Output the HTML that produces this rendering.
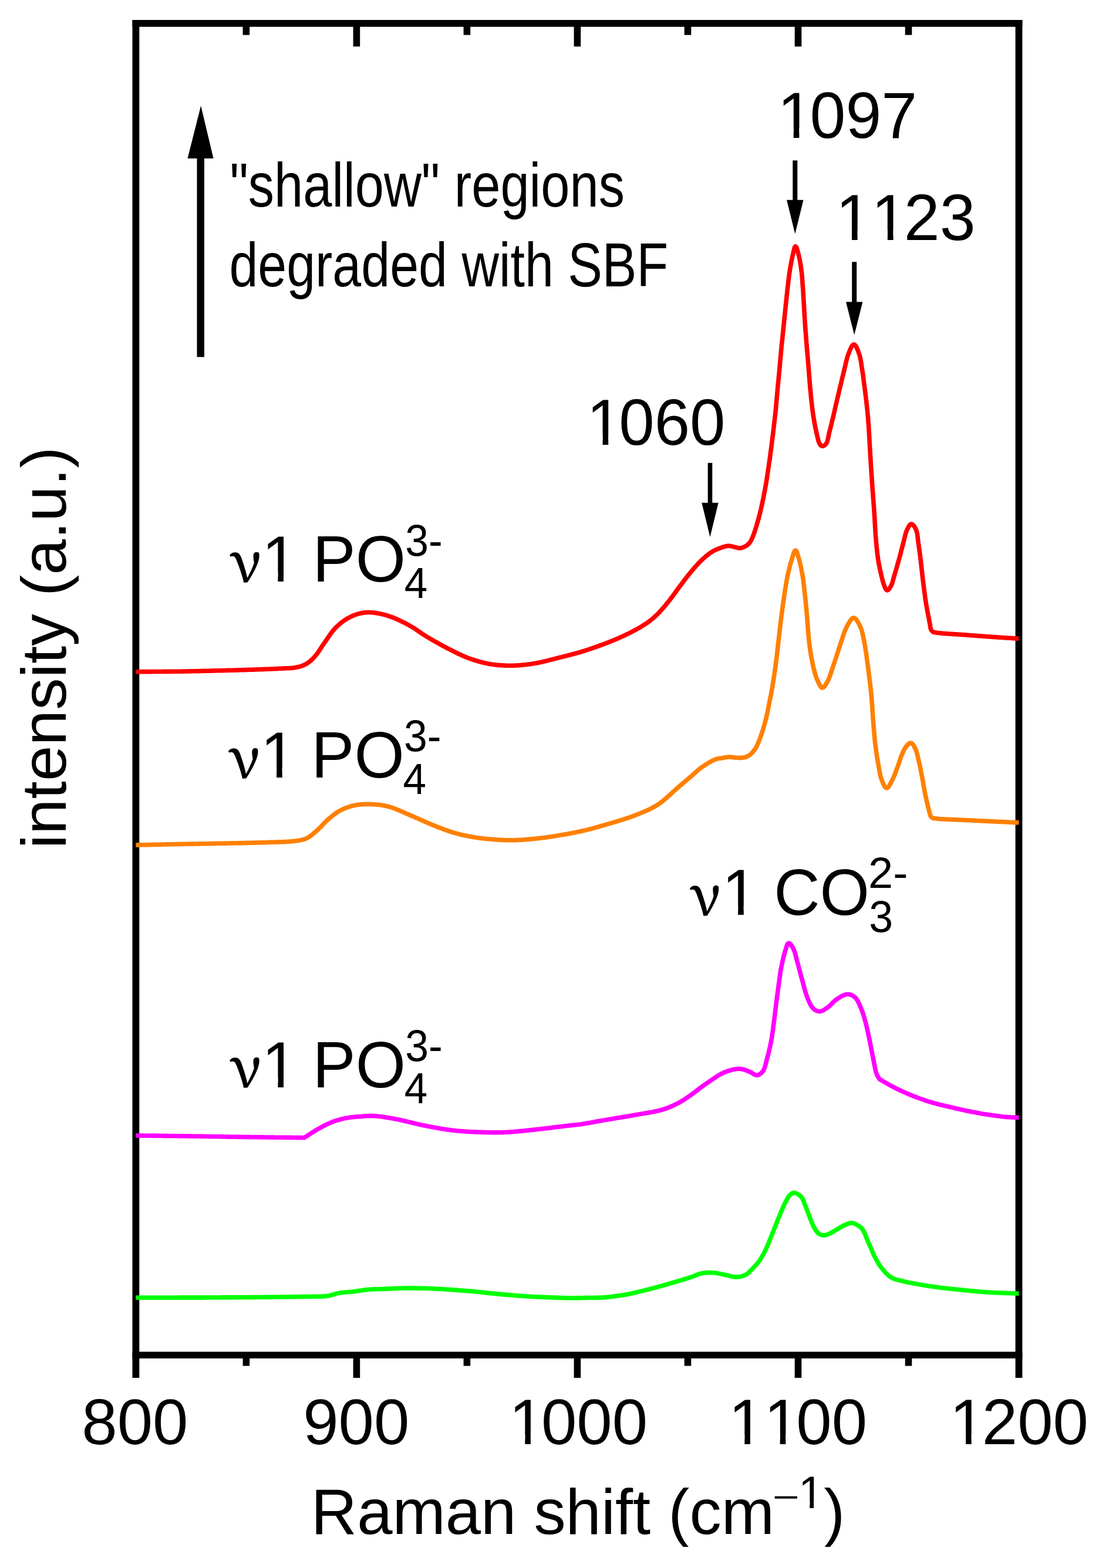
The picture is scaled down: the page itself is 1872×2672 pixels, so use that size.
<!DOCTYPE html>
<html><head><meta charset="utf-8"><title>Raman spectra</title>
<style>
html,body{margin:0;padding:0;background:#fff;}
body{width:1872px;height:2672px;overflow:hidden;}
svg{display:block;}
text{font-family:"Liberation Sans",Arial,sans-serif;fill:#000;font-kerning:none;font-feature-settings:"kern" 0;} .nu{font-family:"Noto Serif CJK SC","Noto Serif CJK JP",serif;stroke:#000;stroke-width:1.6px;stroke-linejoin:round;}
</style></head>
<body>
<svg xmlns="http://www.w3.org/2000/svg" width="1872" height="2672" viewBox="0 0 1872 2672">
<defs>
<clipPath id="k2" clipPathUnits="userSpaceOnUse"><path clip-rule="evenodd" d="M-3000,-3000H3000V3000H-3000ZM11.13,-16.20H33.34V2.50H11.13ZM43.12,-16.20H64.46V2.50H43.12Z"/></clipPath>
<clipPath id="k3" clipPathUnits="userSpaceOnUse"><path clip-rule="evenodd" d="M-3000,-3000H3000V3000H-3000ZM11.13,-16.20H33.34V2.50H11.13ZM43.12,-16.20H64.46V2.50H43.12ZM72.64,-16.20H94.85V2.50H72.64ZM104.63,-16.20H125.97V2.50H104.63Z"/></clipPath>
<clipPath id="k4" clipPathUnits="userSpaceOnUse"><path clip-rule="evenodd" d="M-3000,-3000H3000V3000H-3000ZM11.13,-16.20H33.34V2.50H11.13ZM43.12,-16.20H64.46V2.50H43.12Z"/></clipPath>
<clipPath id="k5" clipPathUnits="userSpaceOnUse"><path clip-rule="evenodd" d="M-3000,-3000H3000V3000H-3000ZM11.24,-16.33H33.61V2.50H11.24ZM43.47,-16.33H64.97V2.50H43.47Z"/></clipPath>
<clipPath id="k6" clipPathUnits="userSpaceOnUse"><path clip-rule="evenodd" d="M-3000,-3000H3000V3000H-3000ZM11.24,-16.33H33.61V2.50H11.24ZM43.47,-16.33H64.97V2.50H43.47ZM73.25,-16.33H95.62V2.50H73.25ZM105.48,-16.33H126.98V2.50H105.48Z"/></clipPath>
<clipPath id="k7" clipPathUnits="userSpaceOnUse"><path clip-rule="evenodd" d="M-3000,-3000H3000V3000H-3000ZM11.13,-16.20H33.34V2.50H11.13ZM43.12,-16.20H64.46V2.50H43.12Z"/></clipPath>
<clipPath id="k10" clipPathUnits="userSpaceOnUse"><path clip-rule="evenodd" d="M-3000,-3000H3000V3000H-3000ZM3.14,-11.28H19.36V2.50H3.14ZM26.17,-11.28H41.79V2.50H26.17Z"/></clipPath>
<clipPath id="k15" clipPathUnits="userSpaceOnUse"><path clip-rule="evenodd" d="M-3000,-3000H3000V3000H-3000ZM5.63,-16.26H27.91V2.50H5.63ZM37.72,-16.26H59.14V2.50H37.72Z"/></clipPath>
<clipPath id="k20" clipPathUnits="userSpaceOnUse"><path clip-rule="evenodd" d="M-3000,-3000H3000V3000H-3000ZM5.63,-16.26H27.91V2.50H5.63ZM37.72,-16.26H59.14V2.50H37.72Z"/></clipPath>
<clipPath id="k25" clipPathUnits="userSpaceOnUse"><path clip-rule="evenodd" d="M-3000,-3000H3000V3000H-3000ZM5.63,-16.26H27.91V2.50H5.63ZM37.72,-16.26H59.14V2.50H37.72Z"/></clipPath>
<clipPath id="k30" clipPathUnits="userSpaceOnUse"><path clip-rule="evenodd" d="M-3000,-3000H3000V3000H-3000ZM5.63,-16.26H27.91V2.50H5.63ZM37.72,-16.26H59.14V2.50H37.72Z"/></clipPath>
<clipPath id="bottomclip" clipPathUnits="userSpaceOnUse"><rect x="0" y="0" width="1872" height="2636"/></clipPath>
</defs>
<rect width="1872" height="2672" fill="#fff"/>
<g fill="#000">
<rect x="225.5" y="34.0" width="1515.9" height="11.7"/>
<rect x="225.5" y="34.0" width="11.8" height="2314.0"/>
<rect x="1729.6" y="34.0" width="11.8" height="2314.0"/>
<rect x="225.5" y="2303.5" width="1515.9" height="11.3"/>
<rect x="413.6" y="45.0" width="11.6" height="14.6"/>
<rect x="413.6" y="2314.0" width="11.6" height="13.6"/>
<rect x="601.6" y="45.0" width="11.6" height="34.3"/>
<rect x="601.6" y="2314.0" width="11.6" height="34.0"/>
<rect x="789.6" y="45.0" width="11.6" height="14.6"/>
<rect x="789.6" y="2314.0" width="11.6" height="13.6"/>
<rect x="977.6" y="45.0" width="11.6" height="34.3"/>
<rect x="977.6" y="2314.0" width="11.6" height="34.0"/>
<rect x="1165.7" y="45.0" width="11.6" height="14.6"/>
<rect x="1165.7" y="2314.0" width="11.6" height="13.6"/>
<rect x="1353.7" y="45.0" width="11.6" height="34.3"/>
<rect x="1353.7" y="2314.0" width="11.6" height="34.0"/>
<rect x="1541.7" y="45.0" width="11.6" height="14.6"/>
<rect x="1541.7" y="2314.0" width="11.6" height="13.6"/>
</g>
<g fill="none" stroke-width="7.6" stroke-linejoin="round" stroke-linecap="butt">
<path d="M231.4,1144.7L232.9,1144.7L234.4,1144.7L235.9,1144.7L237.4,1144.7L238.9,1144.7L240.4,1144.6L241.9,1144.6L243.4,1144.6L244.9,1144.6L246.4,1144.6L247.9,1144.6L249.4,1144.6L250.9,1144.6L252.4,1144.6L253.9,1144.6L255.4,1144.6L256.9,1144.6L258.4,1144.6L259.9,1144.5L261.4,1144.5L262.9,1144.5L264.4,1144.5L265.9,1144.5L267.4,1144.5L268.9,1144.5L270.4,1144.5L271.9,1144.5L273.4,1144.5L274.9,1144.5L276.4,1144.5L277.9,1144.4L279.4,1144.4L280.9,1144.4L282.4,1144.4L283.9,1144.4L285.4,1144.4L286.9,1144.4L288.4,1144.4L289.9,1144.4L291.4,1144.3L292.9,1144.3L294.4,1144.3L295.9,1144.3L297.4,1144.3L298.9,1144.3L300.4,1144.3L301.9,1144.2L303.4,1144.2L304.9,1144.2L306.4,1144.2L307.9,1144.2L309.4,1144.1L310.9,1144.1L312.4,1144.1L313.9,1144.1L315.4,1144.0L316.9,1144.0L318.4,1144.0L319.9,1144.0L321.4,1143.9L322.9,1143.9L324.4,1143.9L325.9,1143.8L327.4,1143.8L328.9,1143.8L330.4,1143.7L331.9,1143.7L333.4,1143.7L334.9,1143.6L336.4,1143.6L337.9,1143.6L339.4,1143.5L340.9,1143.5L342.4,1143.5L343.9,1143.4L345.4,1143.4L346.9,1143.4L348.4,1143.3L349.9,1143.3L351.4,1143.3L352.9,1143.2L354.4,1143.2L355.9,1143.2L357.4,1143.1L358.9,1143.1L360.4,1143.1L361.9,1143.0L363.4,1143.0L364.9,1142.9L366.4,1142.9L367.9,1142.9L369.4,1142.8L370.9,1142.8L372.4,1142.8L373.9,1142.7L375.4,1142.7L376.9,1142.7L378.4,1142.6L379.9,1142.6L381.4,1142.5L382.9,1142.5L384.4,1142.5L385.9,1142.4L387.4,1142.4L388.9,1142.4L390.4,1142.3L391.9,1142.3L393.4,1142.2L394.9,1142.2L396.4,1142.2L397.9,1142.1L399.4,1142.1L400.9,1142.0L402.4,1142.0L403.9,1142.0L405.4,1141.9L406.9,1141.9L408.4,1141.8L409.9,1141.8L411.4,1141.7L412.9,1141.7L414.4,1141.7L415.9,1141.6L417.4,1141.6L418.9,1141.5L420.4,1141.5L421.9,1141.4L423.4,1141.4L424.9,1141.3L426.4,1141.3L427.9,1141.2L429.4,1141.2L430.9,1141.1L432.4,1141.1L433.9,1141.0L435.4,1141.0L436.9,1140.9L438.4,1140.9L439.9,1140.8L441.4,1140.8L442.9,1140.7L444.4,1140.7L445.9,1140.6L447.4,1140.6L448.9,1140.5L450.4,1140.4L451.9,1140.4L453.4,1140.3L454.9,1140.3L456.4,1140.2L457.9,1140.2L459.4,1140.1L460.9,1140.0L462.4,1140.0L463.9,1139.9L465.4,1139.8L466.9,1139.8L468.4,1139.7L469.9,1139.6L471.4,1139.6L472.9,1139.5L474.4,1139.4L475.9,1139.3L477.4,1139.3L478.9,1139.2L480.4,1139.1L481.9,1139.1L483.4,1139.0L484.9,1138.9L486.4,1138.9L487.9,1138.8L489.4,1138.8L490.9,1138.7L492.3,1138.7L493.8,1138.6L495.3,1138.5L496.8,1138.4L498.3,1138.2L499.8,1138.1L501.3,1137.9L502.8,1137.6L504.3,1137.3L505.7,1137.0L507.2,1136.7L508.7,1136.4L510.1,1136.0L511.6,1135.6L513.0,1135.1L514.4,1134.7L515.8,1134.1L517.2,1133.6L518.6,1133.0L519.9,1132.3L521.2,1131.6L522.5,1130.8L523.8,1130.0L525.0,1129.2L526.2,1128.3L527.4,1127.3L528.6,1126.4L529.7,1125.4L530.8,1124.4L531.9,1123.4L532.9,1122.3L534.0,1121.2L535.0,1120.1L536.0,1119.0L537.0,1117.9L538.0,1116.7L538.9,1115.6L539.8,1114.4L540.7,1113.2L541.6,1111.9L542.4,1110.7L543.3,1109.5L544.1,1108.2L544.9,1107.0L545.7,1105.7L546.5,1104.4L547.4,1103.2L548.2,1101.9L549.0,1100.7L549.8,1099.4L550.7,1098.2L551.5,1096.9L552.4,1095.7L553.2,1094.5L554.1,1093.2L555.0,1092.0L555.8,1090.8L556.7,1089.5L557.5,1088.3L558.3,1087.1L559.2,1085.8L560.0,1084.6L560.9,1083.3L561.7,1082.1L562.6,1080.9L563.5,1079.7L564.4,1078.5L565.3,1077.3L566.2,1076.1L567.1,1074.9L568.1,1073.7L569.1,1072.6L570.1,1071.5L571.1,1070.4L572.1,1069.3L573.2,1068.3L574.3,1067.2L575.4,1066.2L576.5,1065.2L577.6,1064.2L578.8,1063.2L579.9,1062.3L581.1,1061.3L582.3,1060.4L583.4,1059.5L584.7,1058.6L585.9,1057.7L587.1,1056.9L588.4,1056.1L589.6,1055.3L590.9,1054.5L592.2,1053.7L593.5,1053.0L594.8,1052.3L596.2,1051.6L597.5,1050.9L598.9,1050.3L600.2,1049.6L601.6,1049.1L603.0,1048.5L604.4,1048.0L605.8,1047.5L607.2,1047.0L608.7,1046.5L610.1,1046.1L611.5,1045.7L613.0,1045.3L614.5,1045.0L615.9,1044.7L617.4,1044.4L618.9,1044.2L620.4,1043.9L621.9,1043.8L623.3,1043.6L624.8,1043.6L626.3,1043.5L627.8,1043.5L629.3,1043.5L630.8,1043.6L632.3,1043.6L633.8,1043.8L635.3,1043.9L636.8,1044.1L638.3,1044.2L639.8,1044.5L641.3,1044.7L642.8,1044.9L644.2,1045.2L645.7,1045.5L647.2,1045.8L648.6,1046.1L650.1,1046.4L651.6,1046.8L653.0,1047.1L654.5,1047.5L655.9,1047.9L657.4,1048.3L658.8,1048.7L660.2,1049.2L661.7,1049.6L663.1,1050.1L664.5,1050.6L665.9,1051.1L667.3,1051.6L668.7,1052.1L670.1,1052.7L671.5,1053.2L672.9,1053.8L674.3,1054.4L675.7,1055.0L677.0,1055.6L678.4,1056.2L679.8,1056.9L681.1,1057.5L682.5,1058.2L683.8,1058.8L685.2,1059.5L686.5,1060.2L687.8,1060.8L689.2,1061.5L690.5,1062.2L691.8,1062.9L693.2,1063.6L694.5,1064.3L695.8,1065.0L697.1,1065.7L698.4,1066.5L699.7,1067.2L701.0,1067.9L702.3,1068.7L703.6,1069.5L704.9,1070.3L706.2,1071.1L707.4,1071.9L708.7,1072.8L709.9,1073.6L711.1,1074.5L712.4,1075.3L713.6,1076.2L714.8,1077.0L716.1,1077.9L717.3,1078.7L718.5,1079.6L719.8,1080.4L721.0,1081.2L722.3,1082.0L723.6,1082.8L724.8,1083.6L726.1,1084.4L727.4,1085.2L728.7,1086.0L730.0,1086.7L731.3,1087.5L732.6,1088.3L733.9,1089.0L735.1,1089.8L736.4,1090.5L737.7,1091.3L739.0,1092.0L740.3,1092.8L741.6,1093.5L742.9,1094.3L744.3,1095.0L745.6,1095.7L746.9,1096.5L748.2,1097.2L749.5,1097.9L750.8,1098.7L752.1,1099.4L753.4,1100.1L754.8,1100.8L756.1,1101.5L757.4,1102.2L758.7,1102.9L760.1,1103.6L761.4,1104.3L762.7,1105.0L764.1,1105.7L765.4,1106.4L766.7,1107.0L768.1,1107.7L769.4,1108.4L770.7,1109.1L772.1,1109.8L773.4,1110.4L774.8,1111.1L776.1,1111.8L777.5,1112.4L778.8,1113.1L780.1,1113.8L781.5,1114.4L782.9,1115.0L784.2,1115.7L785.6,1116.3L787.0,1116.9L788.3,1117.5L789.7,1118.1L791.1,1118.7L792.5,1119.3L793.9,1119.9L795.2,1120.4L796.6,1121.0L798.1,1121.5L799.5,1122.0L800.9,1122.5L802.3,1123.0L803.7,1123.5L805.1,1124.0L806.6,1124.4L808.0,1124.9L809.4,1125.4L810.8,1125.8L812.3,1126.2L813.7,1126.6L815.2,1127.1L816.6,1127.5L818.1,1127.9L819.5,1128.2L821.0,1128.6L822.4,1129.0L823.9,1129.3L825.3,1129.7L826.8,1130.0L828.3,1130.3L829.7,1130.6L831.2,1130.9L832.7,1131.2L834.2,1131.4L835.6,1131.7L837.1,1131.9L838.6,1132.2L840.1,1132.4L841.6,1132.6L843.1,1132.8L844.5,1133.0L846.0,1133.1L847.5,1133.3L849.0,1133.4L850.5,1133.5L852.0,1133.6L853.5,1133.8L855.0,1133.8L856.5,1133.9L858.0,1134.0L859.5,1134.1L861.0,1134.1L862.5,1134.2L864.0,1134.2L865.5,1134.2L867.0,1134.2L868.5,1134.2L870.0,1134.2L871.5,1134.2L873.0,1134.2L874.5,1134.2L876.0,1134.1L877.5,1134.1L879.0,1134.0L880.5,1133.9L882.0,1133.9L883.5,1133.8L885.0,1133.7L886.5,1133.5L888.0,1133.4L889.5,1133.3L891.0,1133.1L892.5,1133.0L894.0,1132.8L895.4,1132.7L896.9,1132.5L898.4,1132.3L899.9,1132.1L901.4,1131.9L902.9,1131.7L904.4,1131.5L905.9,1131.3L907.3,1131.0L908.8,1130.8L910.3,1130.6L911.8,1130.3L913.3,1130.1L914.7,1129.8L916.2,1129.5L917.7,1129.2L919.1,1128.9L920.6,1128.6L922.1,1128.3L923.5,1127.9L925.0,1127.6L926.5,1127.2L927.9,1126.9L929.4,1126.5L930.8,1126.2L932.3,1125.8L933.7,1125.4L935.2,1125.1L936.6,1124.7L938.1,1124.3L939.6,1124.0L941.0,1123.6L942.5,1123.2L943.9,1122.8L945.4,1122.5L946.8,1122.1L948.3,1121.7L949.7,1121.4L951.2,1121.0L952.6,1120.6L954.1,1120.3L955.6,1119.9L957.0,1119.6L958.5,1119.2L959.9,1118.8L961.4,1118.5L962.8,1118.1L964.3,1117.7L965.7,1117.4L967.2,1117.0L968.6,1116.6L970.1,1116.3L971.6,1115.9L973.0,1115.5L974.5,1115.1L975.9,1114.7L977.4,1114.3L978.8,1113.9L980.2,1113.5L981.7,1113.1L983.1,1112.7L984.6,1112.3L986.0,1111.9L987.5,1111.5L988.9,1111.1L990.3,1110.6L991.8,1110.2L993.2,1109.7L994.6,1109.3L996.1,1108.8L997.5,1108.4L998.9,1107.9L1000.3,1107.5L1001.8,1107.0L1003.2,1106.5L1004.6,1106.1L1006.0,1105.6L1007.5,1105.1L1008.9,1104.6L1010.3,1104.1L1011.7,1103.6L1013.1,1103.1L1014.6,1102.6L1016.0,1102.1L1017.4,1101.6L1018.8,1101.1L1020.2,1100.6L1021.6,1100.1L1023.0,1099.6L1024.4,1099.1L1025.8,1098.6L1027.3,1098.0L1028.7,1097.5L1030.1,1097.0L1031.5,1096.5L1032.9,1095.9L1034.3,1095.4L1035.7,1094.8L1037.1,1094.3L1038.4,1093.7L1039.8,1093.2L1041.2,1092.6L1042.6,1092.0L1044.0,1091.5L1045.4,1090.9L1046.8,1090.3L1048.2,1089.7L1049.5,1089.2L1050.9,1088.6L1052.3,1088.0L1053.7,1087.4L1055.0,1086.8L1056.4,1086.2L1057.8,1085.5L1059.2,1084.9L1060.5,1084.3L1061.9,1083.7L1063.2,1083.0L1064.6,1082.4L1066.0,1081.8L1067.3,1081.1L1068.7,1080.5L1070.0,1079.8L1071.4,1079.1L1072.7,1078.5L1074.0,1077.8L1075.4,1077.1L1076.7,1076.4L1078.0,1075.7L1079.4,1075.1L1080.7,1074.3L1082.0,1073.6L1083.3,1072.9L1084.7,1072.2L1086.0,1071.5L1087.3,1070.7L1088.6,1070.0L1089.9,1069.2L1091.2,1068.5L1092.5,1067.7L1093.7,1066.9L1095.0,1066.1L1096.3,1065.3L1097.6,1064.5L1098.8,1063.7L1100.1,1062.9L1101.3,1062.1L1102.5,1061.2L1103.8,1060.3L1105.0,1059.5L1106.2,1058.6L1107.4,1057.7L1108.6,1056.7L1109.7,1055.8L1110.9,1054.8L1112.0,1053.9L1113.2,1052.9L1114.3,1051.9L1115.4,1050.9L1116.5,1049.9L1117.6,1048.8L1118.7,1047.8L1119.7,1046.7L1120.8,1045.7L1121.9,1044.6L1122.9,1043.5L1123.9,1042.4L1124.9,1041.3L1125.9,1040.2L1127.0,1039.1L1127.9,1038.0L1128.9,1036.9L1129.9,1035.7L1130.9,1034.6L1131.9,1033.4L1132.8,1032.3L1133.8,1031.1L1134.7,1030.0L1135.7,1028.8L1136.6,1027.7L1137.6,1026.5L1138.5,1025.3L1139.5,1024.2L1140.4,1023.0L1141.3,1021.8L1142.2,1020.6L1143.1,1019.4L1144.0,1018.2L1144.9,1017.0L1145.8,1015.8L1146.7,1014.6L1147.6,1013.4L1148.5,1012.1L1149.3,1010.9L1150.2,1009.7L1151.1,1008.5L1152.0,1007.3L1152.8,1006.1L1153.7,1004.8L1154.6,1003.6L1155.5,1002.4L1156.4,1001.2L1157.3,1000.0L1158.2,998.8L1159.1,997.6L1160.0,996.4L1160.9,995.2L1161.8,994.0L1162.7,992.8L1163.6,991.6L1164.5,990.4L1165.4,989.2L1166.3,988.0L1167.2,986.8L1168.1,985.6L1169.0,984.4L1169.9,983.3L1170.9,982.1L1171.8,980.9L1172.7,979.7L1173.7,978.6L1174.6,977.4L1175.6,976.2L1176.5,975.1L1177.5,973.9L1178.5,972.8L1179.4,971.6L1180.4,970.5L1181.4,969.3L1182.3,968.2L1183.3,967.1L1184.3,965.9L1185.3,964.8L1186.3,963.7L1187.3,962.6L1188.3,961.5L1189.3,960.4L1190.4,959.3L1191.4,958.2L1192.5,957.2L1193.5,956.1L1194.6,955.1L1195.7,954.0L1196.8,953.0L1197.9,952.0L1199.0,951.0L1200.2,950.0L1201.3,949.0L1202.4,948.0L1203.6,947.1L1204.8,946.1L1205.9,945.2L1207.1,944.3L1208.3,943.4L1209.5,942.5L1210.8,941.7L1212.0,940.8L1213.3,940.0L1214.6,939.3L1215.9,938.5L1217.2,937.8L1218.6,937.2L1219.9,936.6L1221.3,936.0L1222.7,935.4L1224.1,934.9L1225.5,934.3L1226.9,933.8L1228.3,933.3L1229.7,932.8L1231.2,932.4L1232.6,931.9L1234.0,931.5L1235.5,931.0L1236.9,930.7L1238.4,930.4L1239.9,930.3L1241.4,930.3L1242.9,930.4L1244.4,930.6L1245.8,930.9L1247.3,931.2L1248.7,931.6L1250.2,931.9L1251.7,932.3L1253.1,932.6L1254.6,933.0L1256.0,933.4L1257.5,933.7L1258.9,933.9L1260.4,933.9L1261.9,933.7L1263.4,933.4L1264.8,933.0L1266.2,932.5L1267.6,931.9L1269.0,931.2L1270.3,930.5L1271.5,929.7L1272.8,928.9L1273.9,927.9L1275.0,926.9L1276.1,925.8L1277.1,924.7L1277.9,923.5L1278.7,922.2L1279.4,920.9L1280.1,919.6L1280.7,918.2L1281.3,916.8L1281.9,915.4L1282.5,914.0L1283.0,912.7L1283.6,911.3L1284.1,909.8L1284.6,908.4L1285.1,907.0L1285.5,905.6L1286.0,904.2L1286.5,902.7L1286.9,901.3L1287.4,899.9L1287.8,898.4L1288.2,897.0L1288.7,895.6L1289.1,894.1L1289.5,892.7L1289.9,891.3L1290.4,889.8L1290.8,888.4L1291.2,886.9L1291.6,885.5L1292.0,884.0L1292.4,882.6L1292.8,881.1L1293.1,879.7L1293.5,878.2L1293.9,876.8L1294.3,875.3L1294.6,873.9L1295.0,872.4L1295.3,871.0L1295.7,869.5L1296.0,868.0L1296.4,866.6L1296.7,865.1L1297.0,863.6L1297.4,862.2L1297.7,860.7L1298.0,859.3L1298.3,857.8L1298.6,856.3L1298.9,854.8L1299.2,853.4L1299.6,851.9L1299.9,850.4L1300.2,849.0L1300.5,847.5L1300.8,846.0L1301.0,844.6L1301.3,843.1L1301.6,841.6L1301.9,840.1L1302.2,838.7L1302.5,837.2L1302.7,835.7L1303.0,834.2L1303.3,832.8L1303.6,831.3L1303.8,829.8L1304.1,828.3L1304.4,826.9L1304.6,825.4L1304.9,823.9L1305.1,822.4L1305.4,820.9L1305.6,819.5L1305.8,818.0L1306.1,816.5L1306.3,815.0L1306.5,813.5L1306.8,812.1L1307.0,810.6L1307.2,809.1L1307.4,807.6L1307.7,806.1L1307.9,804.6L1308.1,803.2L1308.3,801.7L1308.5,800.2L1308.7,798.7L1309.0,797.2L1309.2,795.7L1309.4,794.2L1309.6,792.8L1309.8,791.3L1310.0,789.8L1310.2,788.3L1310.4,786.8L1310.7,785.3L1310.9,783.9L1311.1,782.4L1311.3,780.9L1311.5,779.4L1311.7,777.9L1311.9,776.4L1312.1,774.9L1312.3,773.4L1312.5,772.0L1312.7,770.5L1312.9,769.0L1313.1,767.5L1313.3,766.0L1313.5,764.5L1313.7,763.0L1313.9,761.5L1314.1,760.1L1314.3,758.6L1314.4,757.1L1314.6,755.6L1314.8,754.1L1315.0,752.6L1315.2,751.1L1315.4,749.6L1315.6,748.2L1315.8,746.7L1315.9,745.2L1316.1,743.7L1316.3,742.2L1316.5,740.7L1316.7,739.2L1316.9,737.7L1317.0,736.2L1317.2,734.8L1317.4,733.3L1317.6,731.8L1317.7,730.3L1317.9,728.8L1318.1,727.3L1318.2,725.8L1318.4,724.3L1318.6,722.8L1318.7,721.3L1318.9,719.8L1319.1,718.4L1319.3,716.9L1319.4,715.4L1319.6,713.9L1319.8,712.4L1320.0,710.9L1320.1,709.4L1320.3,707.9L1320.5,706.4L1320.7,704.9L1320.8,703.5L1321.0,702.0L1321.1,700.5L1321.3,699.0L1321.4,697.5L1321.6,696.0L1321.7,694.5L1321.9,693.0L1322.0,691.5L1322.1,690.0L1322.3,688.5L1322.4,687.0L1322.5,685.5L1322.7,684.0L1322.8,682.5L1322.9,681.1L1323.1,679.6L1323.2,678.1L1323.3,676.6L1323.4,675.1L1323.6,673.6L1323.7,672.1L1323.8,670.6L1324.0,669.1L1324.1,667.6L1324.2,666.1L1324.4,664.6L1324.5,663.1L1324.7,661.6L1324.8,660.1L1324.9,658.6L1325.1,657.1L1325.2,655.7L1325.4,654.2L1325.5,652.7L1325.6,651.2L1325.8,649.7L1325.9,648.2L1326.1,646.7L1326.2,645.2L1326.4,643.7L1326.5,642.2L1326.7,640.7L1326.8,639.2L1326.9,637.7L1327.1,636.2L1327.2,634.7L1327.4,633.2L1327.5,631.8L1327.6,630.3L1327.8,628.8L1327.9,627.3L1328.1,625.8L1328.2,624.3L1328.3,622.8L1328.5,621.3L1328.6,619.8L1328.7,618.3L1328.8,616.8L1329.0,615.3L1329.1,613.8L1329.2,612.3L1329.4,610.8L1329.5,609.3L1329.6,607.8L1329.8,606.4L1329.9,604.9L1330.0,603.4L1330.2,601.9L1330.3,600.4L1330.4,598.9L1330.6,597.4L1330.7,595.9L1330.9,594.4L1331.0,592.9L1331.1,591.4L1331.3,589.9L1331.4,588.4L1331.6,586.9L1331.7,585.4L1331.9,584.0L1332.1,582.5L1332.2,581.0L1332.4,579.5L1332.5,578.0L1332.7,576.5L1332.8,575.0L1333.0,573.5L1333.1,572.0L1333.3,570.5L1333.5,569.0L1333.6,567.5L1333.8,566.0L1333.9,564.6L1334.1,563.1L1334.2,561.6L1334.4,560.1L1334.5,558.6L1334.7,557.1L1334.8,555.6L1335.0,554.1L1335.1,552.6L1335.3,551.1L1335.4,549.6L1335.6,548.1L1335.7,546.6L1335.9,545.1L1336.0,543.7L1336.2,542.2L1336.3,540.7L1336.5,539.2L1336.6,537.7L1336.8,536.2L1336.9,534.7L1337.1,533.2L1337.3,531.7L1337.4,530.2L1337.6,528.7L1337.7,527.2L1337.9,525.7L1338.0,524.3L1338.2,522.8L1338.3,521.3L1338.5,519.8L1338.7,518.3L1338.8,516.8L1339.0,515.3L1339.1,513.8L1339.3,512.3L1339.4,510.8L1339.6,509.3L1339.7,507.8L1339.9,506.3L1340.0,504.9L1340.2,503.4L1340.3,501.9L1340.5,500.4L1340.7,498.9L1340.8,497.4L1341.0,495.9L1341.1,494.4L1341.3,492.9L1341.5,491.4L1341.6,489.9L1341.8,488.4L1342.0,487.0L1342.2,485.5L1342.3,484.0L1342.5,482.5L1342.7,481.0L1342.9,479.5L1343.0,478.0L1343.2,476.5L1343.4,475.0L1343.6,473.6L1343.8,472.1L1344.0,470.6L1344.2,469.1L1344.4,467.6L1344.6,466.1L1344.8,464.6L1345.0,463.2L1345.3,461.7L1345.5,460.2L1345.7,458.7L1346.0,457.2L1346.2,455.7L1346.5,454.3L1346.8,452.8L1347.0,451.3L1347.3,449.8L1347.6,448.4L1347.8,446.9L1348.1,445.4L1348.4,443.9L1348.7,442.5L1349.0,441.0L1349.3,439.5L1349.6,438.1L1350.0,436.6L1350.3,435.1L1350.6,433.7L1351.0,432.2L1351.3,430.8L1351.6,429.3L1352.0,427.8L1352.3,426.4L1352.6,424.9L1353.0,423.4L1353.4,422.0L1354.0,420.7L1354.7,419.9L1355.6,420.0L1356.4,421.0L1357.0,422.3L1357.4,423.7L1357.9,425.1L1358.3,426.6L1358.7,428.0L1359.1,429.5L1359.5,430.9L1359.9,432.4L1360.2,433.8L1360.6,435.3L1360.9,436.7L1361.3,438.2L1361.6,439.7L1361.9,441.1L1362.2,442.6L1362.5,444.1L1362.7,445.6L1363.0,447.0L1363.2,448.5L1363.5,450.0L1363.7,451.5L1364.0,453.0L1364.2,454.4L1364.4,455.9L1364.6,457.4L1364.8,458.9L1365.0,460.4L1365.2,461.9L1365.4,463.4L1365.6,464.9L1365.7,466.3L1365.9,467.8L1366.0,469.3L1366.1,470.8L1366.3,472.3L1366.4,473.8L1366.5,475.3L1366.6,476.8L1366.7,478.3L1366.8,479.8L1366.9,481.3L1367.0,482.8L1367.1,484.3L1367.2,485.8L1367.3,487.3L1367.4,488.8L1367.6,490.3L1367.7,491.8L1367.8,493.3L1367.9,494.8L1368.0,496.3L1368.1,497.8L1368.2,499.3L1368.3,500.8L1368.3,502.3L1368.4,503.8L1368.5,505.2L1368.6,506.7L1368.7,508.2L1368.8,509.7L1368.9,511.2L1369.0,512.7L1369.1,514.2L1369.1,515.7L1369.2,517.2L1369.3,518.7L1369.4,520.2L1369.5,521.7L1369.6,523.2L1369.7,524.7L1369.8,526.2L1369.8,527.7L1369.9,529.2L1370.0,530.7L1370.1,532.2L1370.2,533.7L1370.3,535.2L1370.3,536.7L1370.4,538.2L1370.5,539.7L1370.6,541.2L1370.7,542.7L1370.8,544.2L1370.9,545.7L1371.0,547.2L1371.1,548.7L1371.2,550.2L1371.3,551.7L1371.4,553.2L1371.5,554.7L1371.6,556.2L1371.7,557.7L1371.8,559.2L1371.9,560.7L1372.0,562.1L1372.1,563.6L1372.2,565.1L1372.4,566.6L1372.5,568.1L1372.6,569.6L1372.7,571.1L1372.8,572.6L1372.9,574.1L1373.0,575.6L1373.2,577.1L1373.3,578.6L1373.4,580.1L1373.5,581.6L1373.6,583.1L1373.7,584.6L1373.9,586.1L1374.0,587.6L1374.1,589.1L1374.2,590.6L1374.3,592.1L1374.5,593.6L1374.6,595.1L1374.7,596.6L1374.8,598.0L1375.0,599.5L1375.1,601.0L1375.2,602.5L1375.4,604.0L1375.5,605.5L1375.6,607.0L1375.8,608.5L1375.9,610.0L1376.0,611.5L1376.2,613.0L1376.3,614.5L1376.4,616.0L1376.6,617.5L1376.7,619.0L1376.8,620.5L1376.9,622.0L1377.1,623.5L1377.2,624.9L1377.3,626.4L1377.4,627.9L1377.5,629.4L1377.7,630.9L1377.8,632.4L1377.9,633.9L1378.0,635.4L1378.1,636.9L1378.2,638.4L1378.3,639.9L1378.4,641.4L1378.6,642.9L1378.7,644.4L1378.8,645.9L1378.9,647.4L1379.0,648.9L1379.1,650.4L1379.3,651.9L1379.4,653.4L1379.5,654.9L1379.6,656.4L1379.8,657.9L1379.9,659.3L1380.0,660.8L1380.1,662.3L1380.3,663.8L1380.4,665.3L1380.6,666.8L1380.7,668.3L1380.9,669.8L1381.0,671.3L1381.1,672.8L1381.3,674.3L1381.4,675.8L1381.6,677.3L1381.7,678.8L1381.9,680.3L1382.1,681.7L1382.2,683.2L1382.4,684.7L1382.5,686.2L1382.7,687.7L1382.9,689.2L1383.0,690.7L1383.2,692.2L1383.4,693.7L1383.6,695.2L1383.7,696.7L1383.9,698.1L1384.1,699.6L1384.3,701.1L1384.5,702.6L1384.7,704.1L1384.9,705.6L1385.2,707.1L1385.4,708.5L1385.6,710.0L1385.8,711.5L1386.1,713.0L1386.3,714.5L1386.6,715.9L1386.8,717.4L1387.1,718.9L1387.3,720.4L1387.6,721.9L1387.9,723.3L1388.2,724.8L1388.5,726.3L1388.8,727.7L1389.0,729.2L1389.3,730.7L1389.7,732.2L1390.0,733.6L1390.3,735.1L1390.6,736.6L1390.9,738.0L1391.3,739.5L1391.6,740.9L1391.9,742.4L1392.3,743.9L1392.6,745.3L1393.0,746.8L1393.3,748.2L1393.7,749.7L1394.1,751.1L1394.5,752.6L1395.1,754.0L1395.7,755.3L1396.4,756.6L1397.2,757.9L1398.2,759.0L1399.3,759.9L1400.6,760.2L1402.0,760.1L1403.4,759.5L1404.6,758.8L1405.8,757.8L1406.8,756.7L1407.6,755.5L1408.3,754.2L1408.9,752.8L1409.4,751.4L1409.8,749.9L1410.1,748.5L1410.5,747.0L1410.8,745.6L1411.1,744.1L1411.4,742.6L1411.7,741.1L1412.0,739.7L1412.3,738.2L1412.6,736.7L1413.0,735.3L1413.4,733.8L1413.7,732.4L1414.1,730.9L1414.5,729.5L1414.9,728.0L1415.2,726.6L1415.6,725.1L1416.0,723.7L1416.3,722.2L1416.7,720.8L1417.0,719.3L1417.4,717.8L1417.7,716.4L1418.1,714.9L1418.4,713.5L1418.8,712.0L1419.1,710.5L1419.5,709.1L1419.8,707.6L1420.2,706.2L1420.5,704.7L1420.8,703.2L1421.2,701.8L1421.5,700.3L1421.8,698.8L1422.2,697.4L1422.5,695.9L1422.8,694.5L1423.2,693.0L1423.5,691.5L1423.8,690.1L1424.2,688.6L1424.5,687.1L1424.9,685.7L1425.2,684.2L1425.5,682.8L1425.9,681.3L1426.2,679.8L1426.6,678.4L1426.9,676.9L1427.3,675.5L1427.6,674.0L1428.0,672.5L1428.3,671.1L1428.6,669.6L1429.0,668.2L1429.3,666.7L1429.7,665.2L1430.0,663.8L1430.4,662.3L1430.7,660.9L1431.1,659.4L1431.4,658.0L1431.8,656.5L1432.1,655.0L1432.5,653.6L1432.8,652.1L1433.2,650.7L1433.5,649.2L1433.9,647.7L1434.2,646.3L1434.5,644.8L1434.9,643.4L1435.2,641.9L1435.6,640.4L1435.9,639.0L1436.3,637.5L1436.7,636.1L1437.0,634.6L1437.4,633.1L1437.7,631.7L1438.1,630.2L1438.5,628.8L1438.8,627.3L1439.1,625.9L1439.5,624.4L1439.8,622.9L1440.1,621.5L1440.5,620.0L1440.8,618.5L1441.1,617.1L1441.5,615.6L1441.8,614.2L1442.2,612.7L1442.6,611.3L1443.0,609.8L1443.4,608.4L1443.9,606.9L1444.3,605.5L1444.9,604.1L1445.4,602.7L1445.9,601.3L1446.5,599.9L1447.0,598.5L1447.6,597.1L1448.2,595.7L1448.8,594.4L1449.4,593.0L1450.0,591.6L1450.7,590.3L1451.5,589.1L1452.5,587.9L1453.6,587.2L1454.8,587.0L1456.0,587.6L1457.0,588.7L1457.8,589.9L1458.6,591.2L1459.2,592.5L1459.9,593.9L1460.5,595.3L1461.0,596.6L1461.6,598.0L1462.1,599.4L1462.6,600.8L1463.2,602.3L1463.6,603.7L1464.1,605.1L1464.5,606.5L1464.9,608.0L1465.2,609.5L1465.6,610.9L1465.8,612.4L1466.1,613.9L1466.4,615.3L1466.6,616.8L1466.9,618.3L1467.1,619.8L1467.3,621.3L1467.5,622.8L1467.7,624.2L1467.9,625.7L1468.2,627.2L1468.4,628.7L1468.6,630.2L1468.9,631.7L1469.1,633.1L1469.3,634.6L1469.5,636.1L1469.8,637.6L1470.0,639.1L1470.2,640.6L1470.4,642.1L1470.6,643.5L1470.8,645.0L1471.0,646.5L1471.2,648.0L1471.3,649.5L1471.5,651.0L1471.7,652.5L1471.9,654.0L1472.1,655.4L1472.3,656.9L1472.5,658.4L1472.7,659.9L1472.9,661.4L1473.1,662.9L1473.3,664.4L1473.5,665.9L1473.6,667.3L1473.8,668.8L1474.0,670.3L1474.2,671.8L1474.4,673.3L1474.6,674.8L1474.8,676.3L1475.0,677.8L1475.1,679.3L1475.3,680.7L1475.5,682.2L1475.7,683.7L1475.8,685.2L1476.0,686.7L1476.2,688.2L1476.3,689.7L1476.5,691.2L1476.6,692.7L1476.8,694.2L1477.0,695.7L1477.1,697.1L1477.3,698.6L1477.4,700.1L1477.6,701.6L1477.7,703.1L1477.8,704.6L1478.0,706.1L1478.1,707.6L1478.3,709.1L1478.4,710.6L1478.5,712.1L1478.7,713.6L1478.8,715.1L1478.9,716.6L1479.0,718.1L1479.1,719.6L1479.2,721.1L1479.4,722.6L1479.5,724.0L1479.6,725.5L1479.7,727.0L1479.7,728.5L1479.8,730.0L1479.9,731.5L1480.0,733.0L1480.1,734.5L1480.2,736.0L1480.3,737.5L1480.4,739.0L1480.5,740.5L1480.6,742.0L1480.7,743.5L1480.7,745.0L1480.8,746.5L1480.9,748.0L1481.0,749.5L1481.1,751.0L1481.1,752.5L1481.2,754.0L1481.3,755.5L1481.4,757.0L1481.5,758.5L1481.6,760.0L1481.6,761.5L1481.7,763.0L1481.8,764.5L1481.9,766.0L1482.0,767.5L1482.1,769.0L1482.2,770.5L1482.3,772.0L1482.3,773.5L1482.4,775.0L1482.5,776.5L1482.6,778.0L1482.7,779.5L1482.8,781.0L1482.9,782.5L1483.0,784.0L1483.1,785.5L1483.2,786.9L1483.2,788.4L1483.3,789.9L1483.4,791.4L1483.5,792.9L1483.6,794.4L1483.7,795.9L1483.8,797.4L1483.9,798.9L1484.0,800.4L1484.1,801.9L1484.2,803.4L1484.3,804.9L1484.4,806.4L1484.5,807.9L1484.6,809.4L1484.7,810.9L1484.8,812.4L1484.9,813.9L1485.0,815.4L1485.1,816.9L1485.2,818.4L1485.3,819.9L1485.4,821.4L1485.5,822.9L1485.6,824.4L1485.7,825.9L1485.8,827.4L1485.9,828.9L1486.0,830.4L1486.1,831.9L1486.2,833.4L1486.3,834.8L1486.4,836.3L1486.6,837.8L1486.7,839.3L1486.8,840.8L1486.9,842.3L1487.0,843.8L1487.1,845.3L1487.2,846.8L1487.3,848.3L1487.5,849.8L1487.6,851.3L1487.7,852.8L1487.8,854.3L1487.9,855.8L1488.0,857.3L1488.1,858.8L1488.2,860.3L1488.4,861.8L1488.5,863.3L1488.6,864.8L1488.7,866.3L1488.8,867.8L1488.9,869.3L1489.0,870.8L1489.1,872.3L1489.2,873.8L1489.3,875.2L1489.4,876.7L1489.5,878.2L1489.6,879.7L1489.7,881.2L1489.8,882.7L1489.9,884.2L1490.0,885.7L1490.0,887.2L1490.1,888.7L1490.2,890.2L1490.3,891.7L1490.4,893.2L1490.5,894.7L1490.6,896.2L1490.6,897.7L1490.7,899.2L1490.8,900.7L1490.9,902.2L1491.0,903.7L1491.0,905.2L1491.1,906.7L1491.2,908.2L1491.3,909.7L1491.4,911.2L1491.5,912.7L1491.6,914.2L1491.8,915.7L1491.9,917.2L1492.0,918.7L1492.1,920.2L1492.3,921.7L1492.4,923.2L1492.5,924.6L1492.6,926.1L1492.8,927.6L1492.9,929.1L1493.1,930.6L1493.2,932.1L1493.3,933.6L1493.5,935.1L1493.7,936.6L1493.8,938.1L1494.0,939.6L1494.1,941.1L1494.3,942.6L1494.5,944.0L1494.7,945.5L1494.9,947.0L1495.1,948.5L1495.3,950.0L1495.5,951.5L1495.7,953.0L1495.9,954.5L1496.2,955.9L1496.4,957.4L1496.7,958.9L1496.9,960.4L1497.2,961.8L1497.5,963.3L1497.8,964.8L1498.1,966.3L1498.4,967.7L1498.7,969.2L1499.0,970.7L1499.3,972.1L1499.7,973.6L1500.0,975.1L1500.3,976.5L1500.7,978.0L1501.0,979.4L1501.4,980.9L1501.7,982.4L1502.1,983.8L1502.4,985.3L1502.8,986.7L1503.2,988.2L1503.5,989.6L1503.9,991.1L1504.3,992.5L1504.7,994.0L1505.2,995.4L1505.7,996.8L1506.2,998.2L1506.8,999.6L1507.4,1001.0L1508.0,1002.4L1508.7,1003.7L1509.5,1004.9L1510.5,1005.8L1511.7,1005.9L1512.8,1005.4L1513.9,1004.4L1514.8,1003.2L1515.7,1002.0L1516.4,1000.7L1517.2,999.4L1517.9,998.1L1518.5,996.7L1519.1,995.3L1519.6,993.9L1520.1,992.5L1520.5,991.1L1520.9,989.6L1521.3,988.2L1521.7,986.7L1522.1,985.3L1522.5,983.8L1522.9,982.4L1523.3,981.0L1523.8,979.5L1524.2,978.1L1524.6,976.6L1525.1,975.2L1525.5,973.8L1525.9,972.3L1526.3,970.9L1526.7,969.4L1527.2,968.0L1527.6,966.6L1528.0,965.1L1528.4,963.7L1528.8,962.2L1529.2,960.8L1529.6,959.3L1530.0,957.9L1530.4,956.5L1530.8,955.0L1531.2,953.6L1531.6,952.1L1532.0,950.7L1532.4,949.2L1532.8,947.8L1533.2,946.3L1533.5,944.9L1533.9,943.4L1534.3,942.0L1534.7,940.5L1535.0,939.1L1535.4,937.6L1535.8,936.2L1536.2,934.7L1536.5,933.2L1536.9,931.8L1537.3,930.3L1537.7,928.9L1538.1,927.4L1538.5,926.0L1538.8,924.5L1539.2,923.1L1539.6,921.6L1539.9,920.2L1540.3,918.7L1540.6,917.3L1541.0,915.8L1541.3,914.3L1541.7,912.9L1542.1,911.4L1542.5,910.0L1542.9,908.6L1543.4,907.1L1543.9,905.7L1544.4,904.3L1545.0,902.9L1545.6,901.6L1546.3,900.2L1547.0,898.9L1547.7,897.6L1548.4,896.3L1549.3,895.0L1550.2,893.9L1551.4,893.2L1552.7,892.9L1553.9,893.4L1555.1,894.3L1556.1,895.4L1557.0,896.6L1557.8,897.8L1558.6,899.1L1559.3,900.4L1559.9,901.8L1560.5,903.1L1561.1,904.5L1561.5,906.0L1561.9,907.4L1562.2,908.9L1562.5,910.3L1562.7,911.8L1562.9,913.3L1563.1,914.8L1563.3,916.3L1563.4,917.8L1563.6,919.3L1563.8,920.8L1563.9,922.3L1564.1,923.7L1564.3,925.2L1564.5,926.7L1564.8,928.2L1565.0,929.7L1565.2,931.2L1565.4,932.7L1565.6,934.1L1565.8,935.6L1566.0,937.1L1566.2,938.6L1566.4,940.1L1566.6,941.6L1566.8,943.1L1567.0,944.5L1567.2,946.0L1567.4,947.5L1567.5,949.0L1567.7,950.5L1567.9,952.0L1568.1,953.5L1568.3,955.0L1568.5,956.5L1568.6,958.0L1568.8,959.4L1569.0,960.9L1569.1,962.4L1569.3,963.9L1569.5,965.4L1569.6,966.9L1569.8,968.4L1570.0,969.9L1570.1,971.4L1570.3,972.9L1570.5,974.4L1570.6,975.8L1570.8,977.3L1571.0,978.8L1571.1,980.3L1571.3,981.8L1571.5,983.3L1571.6,984.8L1571.8,986.3L1572.0,987.8L1572.2,989.3L1572.4,990.7L1572.5,992.2L1572.7,993.7L1572.9,995.2L1573.1,996.7L1573.3,998.2L1573.5,999.7L1573.6,1001.2L1573.8,1002.7L1574.0,1004.1L1574.2,1005.6L1574.4,1007.1L1574.6,1008.6L1574.8,1010.1L1575.0,1011.6L1575.2,1013.1L1575.4,1014.6L1575.6,1016.0L1575.8,1017.5L1576.0,1019.0L1576.2,1020.5L1576.4,1022.0L1576.6,1023.5L1576.9,1025.0L1577.1,1026.4L1577.3,1027.9L1577.6,1029.4L1577.8,1030.9L1578.1,1032.4L1578.4,1033.8L1578.6,1035.3L1578.9,1036.8L1579.2,1038.3L1579.4,1039.7L1579.7,1041.2L1580.0,1042.7L1580.3,1044.2L1580.5,1045.6L1580.8,1047.1L1581.1,1048.6L1581.4,1050.1L1581.7,1051.5L1582.0,1053.0L1582.3,1054.5L1582.5,1055.9L1582.8,1057.4L1583.1,1058.9L1583.4,1060.4L1583.7,1061.8L1584.0,1063.3L1584.2,1064.8L1584.4,1066.3L1584.6,1067.8L1584.8,1069.2L1585.1,1070.7L1585.5,1072.1L1586.2,1073.5L1587.0,1074.7L1588.1,1075.7L1589.2,1076.7L1590.0,1077.3L1591.5,1077.5L1593.0,1077.8L1594.5,1078.0L1595.9,1078.3L1597.4,1078.5L1598.9,1078.7L1600.4,1078.8L1601.9,1079.0L1603.4,1079.1L1604.9,1079.3L1606.4,1079.4L1607.9,1079.5L1609.4,1079.6L1610.9,1079.7L1612.4,1079.8L1613.9,1079.9L1615.4,1080.1L1616.9,1080.2L1618.4,1080.3L1619.9,1080.3L1621.4,1080.4L1622.9,1080.5L1624.4,1080.6L1625.9,1080.7L1627.4,1080.8L1628.9,1080.9L1630.4,1081.0L1631.9,1081.1L1633.4,1081.2L1634.9,1081.3L1636.4,1081.4L1637.9,1081.5L1639.4,1081.6L1640.9,1081.7L1642.4,1081.8L1643.9,1081.9L1645.4,1082.0L1646.9,1082.1L1648.4,1082.2L1649.9,1082.4L1651.4,1082.5L1652.9,1082.6L1654.4,1082.7L1655.9,1082.8L1657.4,1082.9L1658.9,1083.0L1660.4,1083.1L1661.9,1083.2L1663.4,1083.4L1664.9,1083.5L1666.4,1083.6L1667.9,1083.7L1669.4,1083.8L1670.9,1083.9L1672.4,1084.0L1674.0,1084.2L1675.5,1084.3L1677.0,1084.4L1678.5,1084.5L1680.0,1084.6L1681.5,1084.7L1683.0,1084.8L1684.5,1084.9L1686.0,1085.0L1687.5,1085.1L1689.0,1085.3L1690.5,1085.4L1692.0,1085.5L1693.5,1085.6L1695.0,1085.7L1696.5,1085.8L1698.0,1085.9L1699.5,1086.0L1701.0,1086.1L1702.5,1086.2L1704.0,1086.3L1705.5,1086.4L1707.0,1086.5L1708.5,1086.6L1710.0,1086.7L1711.5,1086.8L1713.0,1086.9L1714.5,1087.0L1716.0,1087.1L1717.5,1087.2L1719.0,1087.2L1720.5,1087.3L1722.0,1087.4L1723.5,1087.5L1725.0,1087.6L1726.5,1087.7L1728.0,1087.8L1729.5,1087.9L1731.0,1088.0L1732.5,1088.1L1734.0,1088.2L1735.5,1088.3" stroke="#ff0000"/>
<path d="M231.4,1440.0L232.9,1440.0L234.4,1439.9L235.9,1439.9L237.4,1439.9L238.9,1439.8L240.4,1439.8L241.9,1439.8L243.4,1439.8L244.9,1439.7L246.4,1439.7L247.9,1439.7L249.4,1439.6L250.9,1439.6L252.4,1439.6L253.9,1439.5L255.4,1439.5L256.9,1439.5L258.4,1439.4L259.9,1439.4L261.4,1439.4L262.9,1439.3L264.4,1439.3L265.9,1439.3L267.4,1439.2L268.9,1439.2L270.4,1439.2L271.9,1439.2L273.4,1439.1L274.9,1439.1L276.4,1439.1L277.9,1439.0L279.4,1439.0L280.9,1439.0L282.4,1438.9L283.9,1438.9L285.4,1438.9L286.9,1438.8L288.4,1438.8L289.9,1438.8L291.4,1438.8L292.9,1438.7L294.4,1438.7L295.9,1438.7L297.4,1438.6L298.9,1438.6L300.4,1438.6L301.9,1438.6L303.4,1438.5L304.9,1438.5L306.4,1438.5L307.9,1438.4L309.4,1438.4L310.9,1438.4L312.4,1438.4L313.9,1438.3L315.4,1438.3L316.9,1438.3L318.4,1438.3L319.9,1438.2L321.4,1438.2L322.9,1438.2L324.4,1438.1L325.9,1438.1L327.4,1438.1L328.9,1438.1L330.4,1438.0L331.9,1438.0L333.4,1438.0L334.9,1438.0L336.4,1438.0L337.9,1437.9L339.4,1437.9L340.9,1437.9L342.4,1437.9L343.9,1437.8L345.4,1437.8L346.9,1437.8L348.4,1437.8L349.9,1437.7L351.4,1437.7L352.9,1437.7L354.4,1437.7L355.9,1437.6L357.4,1437.6L358.9,1437.6L360.4,1437.6L361.9,1437.5L363.4,1437.5L364.9,1437.5L366.4,1437.4L367.9,1437.4L369.4,1437.4L370.9,1437.4L372.4,1437.3L373.9,1437.3L375.4,1437.3L376.9,1437.2L378.4,1437.2L379.9,1437.2L381.4,1437.2L382.9,1437.1L384.4,1437.1L385.9,1437.1L387.4,1437.0L388.9,1437.0L390.4,1437.0L391.9,1437.0L393.4,1436.9L394.9,1436.9L396.4,1436.9L397.9,1436.8L399.4,1436.8L400.9,1436.8L402.4,1436.8L403.9,1436.7L405.4,1436.7L406.9,1436.7L408.4,1436.6L409.9,1436.6L411.4,1436.6L412.9,1436.6L414.4,1436.5L415.9,1436.5L417.4,1436.5L418.9,1436.4L420.4,1436.4L421.9,1436.4L423.4,1436.3L424.9,1436.3L426.4,1436.3L427.9,1436.2L429.4,1436.2L430.9,1436.2L432.4,1436.1L433.9,1436.1L435.4,1436.1L436.9,1436.0L438.4,1436.0L439.9,1435.9L441.4,1435.9L442.9,1435.9L444.4,1435.8L445.9,1435.8L447.4,1435.7L448.9,1435.7L450.4,1435.6L451.9,1435.6L453.4,1435.5L454.9,1435.5L456.4,1435.4L457.9,1435.4L459.4,1435.3L460.9,1435.3L462.4,1435.2L463.9,1435.2L465.4,1435.2L466.9,1435.1L468.4,1435.1L469.9,1435.0L471.4,1435.0L472.9,1435.0L474.4,1434.9L475.9,1434.9L477.4,1434.8L478.8,1434.8L480.3,1434.7L481.8,1434.7L483.3,1434.6L484.8,1434.6L486.3,1434.5L487.8,1434.4L489.3,1434.3L490.8,1434.2L492.3,1434.1L493.8,1434.0L495.3,1433.9L496.8,1433.8L498.3,1433.6L499.8,1433.5L501.3,1433.3L502.8,1433.1L504.3,1432.9L505.7,1432.7L507.2,1432.4L508.7,1432.2L510.2,1431.9L511.7,1431.7L513.1,1431.4L514.6,1431.0L516.1,1430.7L517.5,1430.3L518.9,1429.8L520.3,1429.3L521.7,1428.7L523.1,1428.1L524.4,1427.4L525.7,1426.7L527.0,1425.9L528.2,1425.0L529.4,1424.2L530.6,1423.2L531.8,1422.3L533.0,1421.4L534.1,1420.4L535.2,1419.4L536.4,1418.4L537.5,1417.4L538.6,1416.4L539.7,1415.4L540.8,1414.4L541.9,1413.4L543.0,1412.3L544.1,1411.3L545.1,1410.2L546.2,1409.2L547.2,1408.1L548.3,1407.0L549.3,1405.9L550.3,1404.8L551.3,1403.7L552.4,1402.6L553.4,1401.5L554.5,1400.5L555.6,1399.4L556.7,1398.4L557.8,1397.4L558.9,1396.4L560.0,1395.4L561.1,1394.4L562.3,1393.5L563.4,1392.5L564.6,1391.5L565.7,1390.6L566.9,1389.6L568.1,1388.7L569.3,1387.8L570.5,1386.9L571.7,1386.0L572.9,1385.2L574.2,1384.3L575.4,1383.5L576.7,1382.7L578.0,1382.0L579.3,1381.3L580.7,1380.6L582.0,1379.9L583.4,1379.3L584.7,1378.7L586.1,1378.1L587.5,1377.5L588.9,1376.9L590.3,1376.4L591.7,1375.9L593.1,1375.4L594.5,1374.9L596.0,1374.5L597.4,1374.0L598.8,1373.6L600.3,1373.2L601.7,1372.9L603.2,1372.5L604.7,1372.2L606.2,1372.0L607.6,1371.7L609.1,1371.5L610.6,1371.3L612.1,1371.1L613.6,1370.9L615.1,1370.8L616.6,1370.7L618.1,1370.6L619.6,1370.5L621.1,1370.4L622.6,1370.4L624.1,1370.4L625.6,1370.4L627.1,1370.4L628.6,1370.4L630.1,1370.4L631.6,1370.5L633.1,1370.5L634.6,1370.6L636.1,1370.7L637.6,1370.7L639.0,1370.9L640.5,1371.0L642.0,1371.1L643.5,1371.3L645.0,1371.4L646.5,1371.6L648.0,1371.8L649.5,1372.0L651.0,1372.3L652.4,1372.5L653.9,1372.8L655.4,1373.1L656.9,1373.4L658.3,1373.7L659.8,1374.0L661.2,1374.4L662.7,1374.7L664.1,1375.1L665.6,1375.6L667.0,1376.0L668.4,1376.5L669.8,1377.0L671.3,1377.5L672.7,1378.0L674.1,1378.6L675.5,1379.1L676.8,1379.7L678.2,1380.3L679.6,1380.8L681.0,1381.4L682.4,1382.0L683.7,1382.6L685.1,1383.2L686.5,1383.8L687.9,1384.4L689.2,1385.1L690.6,1385.7L692.0,1386.3L693.3,1386.9L694.7,1387.5L696.1,1388.1L697.5,1388.7L698.8,1389.3L700.2,1389.8L701.6,1390.4L703.0,1391.0L704.4,1391.6L705.7,1392.2L707.1,1392.8L708.5,1393.4L709.9,1394.0L711.2,1394.6L712.6,1395.2L714.0,1395.9L715.3,1396.5L716.7,1397.1L718.1,1397.7L719.5,1398.3L720.8,1398.9L722.2,1399.5L723.6,1400.1L724.9,1400.7L726.3,1401.3L727.7,1401.9L729.1,1402.5L730.4,1403.1L731.8,1403.7L733.2,1404.3L734.6,1404.8L736.0,1405.4L737.4,1406.0L738.8,1406.5L740.2,1407.1L741.6,1407.6L743.0,1408.2L744.3,1408.8L745.7,1409.3L747.1,1409.9L748.5,1410.4L749.9,1410.9L751.3,1411.5L752.7,1412.0L754.1,1412.6L755.5,1413.1L756.9,1413.6L758.4,1414.1L759.8,1414.6L761.2,1415.1L762.6,1415.6L764.0,1416.1L765.4,1416.6L766.9,1417.1L768.3,1417.5L769.7,1418.0L771.1,1418.4L772.6,1418.9L774.0,1419.3L775.5,1419.7L776.9,1420.1L778.4,1420.5L779.8,1420.9L781.3,1421.3L782.7,1421.6L784.2,1422.0L785.6,1422.3L787.1,1422.7L788.5,1423.0L790.0,1423.3L791.5,1423.7L792.9,1424.0L794.4,1424.3L795.9,1424.6L797.4,1424.9L798.8,1425.1L800.3,1425.4L801.8,1425.7L803.3,1426.0L804.7,1426.2L806.2,1426.5L807.7,1426.7L809.2,1427.0L810.7,1427.2L812.1,1427.4L813.6,1427.6L815.1,1427.9L816.6,1428.1L818.1,1428.3L819.6,1428.4L821.1,1428.6L822.5,1428.8L824.0,1429.0L825.5,1429.1L827.0,1429.3L828.5,1429.4L830.0,1429.6L831.5,1429.7L833.0,1429.8L834.5,1430.0L836.0,1430.1L837.5,1430.2L839.0,1430.3L840.5,1430.4L842.0,1430.5L843.5,1430.7L845.0,1430.8L846.5,1430.9L848.0,1431.0L849.4,1431.1L850.9,1431.2L852.4,1431.2L853.9,1431.3L855.4,1431.4L856.9,1431.5L858.4,1431.6L859.9,1431.6L861.4,1431.7L862.9,1431.7L864.4,1431.8L865.9,1431.8L867.4,1431.8L868.9,1431.8L870.4,1431.8L871.9,1431.8L873.4,1431.8L874.9,1431.8L876.4,1431.7L877.9,1431.7L879.4,1431.6L880.9,1431.6L882.4,1431.5L883.9,1431.4L885.4,1431.3L886.9,1431.2L888.4,1431.2L889.9,1431.1L891.4,1431.0L892.9,1430.9L894.4,1430.7L895.9,1430.6L897.4,1430.5L898.9,1430.4L900.4,1430.3L901.9,1430.1L903.4,1430.0L904.9,1429.9L906.4,1429.7L907.8,1429.6L909.3,1429.4L910.8,1429.3L912.3,1429.1L913.8,1429.0L915.3,1428.8L916.8,1428.6L918.3,1428.5L919.8,1428.3L921.3,1428.1L922.8,1427.9L924.2,1427.8L925.7,1427.6L927.2,1427.4L928.7,1427.2L930.2,1427.0L931.7,1426.8L933.2,1426.6L934.7,1426.4L936.1,1426.1L937.6,1425.9L939.1,1425.7L940.6,1425.5L942.1,1425.2L943.6,1425.0L945.0,1424.8L946.5,1424.5L948.0,1424.3L949.5,1424.1L951.0,1423.8L952.4,1423.6L953.9,1423.3L955.4,1423.1L956.9,1422.8L958.4,1422.6L959.8,1422.3L961.3,1422.0L962.8,1421.8L964.3,1421.5L965.7,1421.2L967.2,1421.0L968.7,1420.7L970.2,1420.4L971.6,1420.1L973.1,1419.9L974.6,1419.6L976.1,1419.3L977.5,1419.0L979.0,1418.7L980.5,1418.4L981.9,1418.1L983.4,1417.8L984.9,1417.5L986.3,1417.2L987.8,1416.9L989.3,1416.6L990.7,1416.2L992.2,1415.9L993.7,1415.6L995.1,1415.2L996.6,1414.9L998.0,1414.6L999.5,1414.2L1001.0,1413.8L1002.4,1413.5L1003.9,1413.1L1005.3,1412.7L1006.8,1412.4L1008.2,1412.0L1009.7,1411.6L1011.1,1411.2L1012.6,1410.8L1014.0,1410.4L1015.5,1410.0L1016.9,1409.6L1018.4,1409.2L1019.8,1408.8L1021.2,1408.4L1022.7,1407.9L1024.1,1407.5L1025.6,1407.1L1027.0,1406.7L1028.4,1406.3L1029.9,1405.8L1031.3,1405.4L1032.8,1405.0L1034.2,1404.6L1035.6,1404.2L1037.1,1403.7L1038.5,1403.3L1040.0,1402.9L1041.4,1402.5L1042.8,1402.1L1044.3,1401.6L1045.7,1401.2L1047.1,1400.8L1048.6,1400.4L1050.0,1399.9L1051.5,1399.5L1052.9,1399.1L1054.3,1398.6L1055.8,1398.2L1057.2,1397.7L1058.6,1397.3L1060.1,1396.8L1061.5,1396.4L1062.9,1395.9L1064.3,1395.5L1065.8,1395.0L1067.2,1394.5L1068.6,1394.1L1070.0,1393.6L1071.5,1393.1L1072.9,1392.6L1074.3,1392.1L1075.7,1391.6L1077.1,1391.1L1078.5,1390.6L1079.9,1390.1L1081.3,1389.5L1082.7,1389.0L1084.1,1388.4L1085.5,1387.9L1086.9,1387.3L1088.3,1386.8L1089.7,1386.2L1091.1,1385.7L1092.5,1385.1L1093.9,1384.5L1095.3,1384.0L1096.6,1383.4L1098.0,1382.8L1099.4,1382.2L1100.8,1381.6L1102.1,1381.0L1103.5,1380.4L1104.9,1379.7L1106.2,1379.1L1107.6,1378.4L1108.9,1377.7L1110.2,1377.1L1111.6,1376.4L1112.9,1375.6L1114.2,1374.9L1115.5,1374.2L1116.8,1373.4L1118.1,1372.6L1119.3,1371.8L1120.6,1371.0L1121.9,1370.2L1123.1,1369.3L1124.3,1368.5L1125.5,1367.6L1126.7,1366.7L1127.9,1365.8L1129.1,1364.8L1130.3,1363.9L1131.4,1363.0L1132.6,1362.0L1133.7,1361.0L1134.9,1360.0L1136.0,1359.1L1137.1,1358.1L1138.2,1357.1L1139.4,1356.1L1140.5,1355.1L1141.6,1354.1L1142.7,1353.1L1143.8,1352.0L1144.9,1351.0L1146.0,1350.0L1147.1,1349.0L1148.2,1348.0L1149.3,1347.0L1150.4,1346.0L1151.5,1344.9L1152.7,1343.9L1153.8,1342.9L1154.9,1341.9L1156.0,1340.9L1157.1,1340.0L1158.3,1339.0L1159.4,1338.0L1160.6,1337.0L1161.7,1336.1L1162.9,1335.1L1164.0,1334.1L1165.2,1333.2L1166.3,1332.2L1167.5,1331.2L1168.6,1330.3L1169.7,1329.3L1170.9,1328.3L1172.0,1327.4L1173.2,1326.4L1174.3,1325.4L1175.5,1324.5L1176.6,1323.5L1177.8,1322.5L1178.9,1321.5L1180.0,1320.5L1181.1,1319.5L1182.2,1318.5L1183.3,1317.5L1184.4,1316.5L1185.6,1315.5L1186.7,1314.5L1187.8,1313.5L1188.9,1312.5L1190.1,1311.6L1191.3,1310.6L1192.4,1309.7L1193.6,1308.8L1194.8,1307.9L1196.1,1307.0L1197.3,1306.2L1198.5,1305.3L1199.8,1304.5L1201.0,1303.7L1202.3,1302.9L1203.6,1302.0L1204.8,1301.3L1206.1,1300.5L1207.4,1299.7L1208.7,1298.9L1210.0,1298.2L1211.3,1297.5L1212.6,1296.8L1214.0,1296.1L1215.3,1295.4L1216.7,1294.8L1218.1,1294.2L1219.5,1293.7L1220.9,1293.2L1222.3,1292.9L1223.8,1292.6L1225.3,1292.4L1226.8,1292.3L1228.3,1292.1L1229.8,1291.9L1231.2,1291.6L1232.7,1291.3L1234.2,1291.0L1235.6,1290.7L1237.1,1290.4L1238.6,1290.2L1240.1,1290.0L1241.6,1289.9L1243.1,1290.0L1244.6,1290.1L1246.1,1290.2L1247.5,1290.4L1249.0,1290.6L1250.5,1290.9L1252.0,1291.0L1253.5,1291.2L1255.0,1291.3L1256.5,1291.3L1258.0,1291.4L1259.5,1291.4L1261.0,1291.4L1262.5,1291.4L1264.0,1291.2L1265.5,1291.1L1266.9,1290.8L1268.4,1290.5L1269.8,1290.1L1271.3,1289.6L1272.6,1289.0L1274.0,1288.4L1275.3,1287.6L1276.6,1286.8L1277.8,1286.0L1278.9,1285.0L1280.0,1283.9L1281.0,1282.8L1282.0,1281.7L1282.9,1280.5L1283.9,1279.4L1284.8,1278.2L1285.7,1277.0L1286.6,1275.8L1287.4,1274.5L1288.1,1273.2L1288.9,1271.9L1289.5,1270.6L1290.1,1269.2L1290.7,1267.8L1291.3,1266.4L1291.9,1265.0L1292.4,1263.7L1293.0,1262.3L1293.5,1260.9L1294.1,1259.5L1294.6,1258.1L1295.1,1256.6L1295.6,1255.2L1296.1,1253.8L1296.6,1252.4L1297.1,1251.0L1297.6,1249.6L1298.1,1248.1L1298.5,1246.7L1299.0,1245.3L1299.4,1243.9L1299.9,1242.4L1300.3,1241.0L1300.8,1239.6L1301.2,1238.1L1301.6,1236.7L1302.0,1235.2L1302.4,1233.8L1302.8,1232.3L1303.2,1230.9L1303.6,1229.4L1303.9,1228.0L1304.3,1226.5L1304.7,1225.1L1305.0,1223.6L1305.4,1222.2L1305.7,1220.7L1306.0,1219.2L1306.3,1217.8L1306.7,1216.3L1307.0,1214.8L1307.3,1213.4L1307.6,1211.9L1307.9,1210.4L1308.2,1209.0L1308.5,1207.5L1308.8,1206.0L1309.1,1204.5L1309.4,1203.1L1309.7,1201.6L1310.0,1200.1L1310.3,1198.7L1310.6,1197.2L1310.8,1195.7L1311.1,1194.3L1311.4,1192.8L1311.7,1191.3L1312.0,1189.8L1312.3,1188.4L1312.6,1186.9L1312.9,1185.4L1313.2,1183.9L1313.4,1182.5L1313.7,1181.0L1314.0,1179.5L1314.3,1178.0L1314.5,1176.6L1314.8,1175.1L1315.1,1173.6L1315.3,1172.1L1315.6,1170.7L1315.8,1169.2L1316.1,1167.7L1316.3,1166.2L1316.5,1164.7L1316.8,1163.3L1317.0,1161.8L1317.3,1160.3L1317.5,1158.8L1317.7,1157.3L1318.0,1155.9L1318.2,1154.4L1318.4,1152.9L1318.6,1151.4L1318.8,1149.9L1319.1,1148.4L1319.3,1147.0L1319.5,1145.5L1319.7,1144.0L1319.9,1142.5L1320.2,1141.0L1320.4,1139.5L1320.6,1138.0L1320.8,1136.6L1321.0,1135.1L1321.2,1133.6L1321.4,1132.1L1321.6,1130.6L1321.8,1129.1L1322.0,1127.6L1322.2,1126.1L1322.3,1124.7L1322.5,1123.2L1322.7,1121.7L1322.9,1120.2L1323.1,1118.7L1323.3,1117.2L1323.4,1115.7L1323.6,1114.2L1323.8,1112.7L1323.9,1111.3L1324.1,1109.8L1324.3,1108.3L1324.4,1106.8L1324.6,1105.3L1324.8,1103.8L1325.0,1102.3L1325.1,1100.8L1325.3,1099.3L1325.4,1097.8L1325.6,1096.3L1325.8,1094.9L1325.9,1093.4L1326.1,1091.9L1326.3,1090.4L1326.4,1088.9L1326.6,1087.4L1326.8,1085.9L1327.0,1084.4L1327.1,1082.9L1327.3,1081.4L1327.5,1080.0L1327.6,1078.5L1327.8,1077.0L1328.0,1075.5L1328.1,1074.0L1328.3,1072.5L1328.5,1071.0L1328.7,1069.5L1328.8,1068.0L1329.0,1066.5L1329.2,1065.1L1329.4,1063.6L1329.5,1062.1L1329.7,1060.6L1329.9,1059.1L1330.1,1057.6L1330.3,1056.1L1330.5,1054.6L1330.6,1053.1L1330.8,1051.7L1331.0,1050.2L1331.2,1048.7L1331.4,1047.2L1331.6,1045.7L1331.8,1044.2L1332.0,1042.7L1332.2,1041.2L1332.4,1039.7L1332.6,1038.3L1332.8,1036.8L1333.0,1035.3L1333.2,1033.8L1333.4,1032.3L1333.6,1030.8L1333.8,1029.3L1334.0,1027.9L1334.2,1026.4L1334.4,1024.9L1334.6,1023.4L1334.8,1021.9L1335.1,1020.4L1335.3,1019.0L1335.5,1017.5L1335.7,1016.0L1335.9,1014.5L1336.2,1013.0L1336.4,1011.5L1336.6,1010.1L1336.9,1008.6L1337.1,1007.1L1337.3,1005.6L1337.6,1004.1L1337.8,1002.6L1338.0,1001.2L1338.3,999.7L1338.5,998.2L1338.7,996.7L1339.0,995.2L1339.2,993.8L1339.5,992.3L1339.7,990.8L1340.0,989.3L1340.3,987.9L1340.6,986.4L1340.8,984.9L1341.1,983.4L1341.4,982.0L1341.7,980.5L1342.1,979.0L1342.4,977.6L1342.7,976.1L1343.0,974.6L1343.4,973.2L1343.7,971.7L1344.1,970.3L1344.4,968.8L1344.8,967.3L1345.2,965.9L1345.5,964.4L1345.9,963.0L1346.3,961.5L1346.7,960.1L1347.1,958.6L1347.5,957.2L1348.0,955.8L1348.4,954.3L1348.8,952.9L1349.3,951.5L1349.7,950.0L1350.1,948.6L1350.6,947.2L1351.0,945.7L1351.4,944.3L1351.9,942.9L1352.4,941.4L1352.9,940.1L1353.6,938.8L1354.6,938.0L1355.6,938.1L1356.4,938.9L1357.1,940.2L1357.7,941.6L1358.1,943.0L1358.6,944.5L1359.0,945.9L1359.4,947.3L1359.8,948.8L1360.2,950.2L1360.7,951.7L1361.1,953.1L1361.5,954.6L1361.9,956.0L1362.3,957.4L1362.6,958.9L1363.0,960.4L1363.3,961.8L1363.6,963.3L1364.0,964.7L1364.3,966.2L1364.6,967.7L1364.9,969.2L1365.2,970.6L1365.5,972.1L1365.7,973.6L1366.0,975.0L1366.3,976.5L1366.5,978.0L1366.8,979.5L1367.1,981.0L1367.3,982.4L1367.5,983.9L1367.8,985.4L1368.0,986.9L1368.2,988.4L1368.4,989.9L1368.6,991.3L1368.8,992.8L1368.9,994.3L1369.1,995.8L1369.3,997.3L1369.4,998.8L1369.6,1000.3L1369.8,1001.8L1369.9,1003.3L1370.1,1004.8L1370.3,1006.3L1370.4,1007.7L1370.6,1009.2L1370.8,1010.7L1370.9,1012.2L1371.1,1013.7L1371.3,1015.2L1371.4,1016.7L1371.6,1018.2L1371.7,1019.7L1371.9,1021.2L1372.1,1022.7L1372.2,1024.1L1372.4,1025.6L1372.5,1027.1L1372.7,1028.6L1372.8,1030.1L1372.9,1031.6L1373.1,1033.1L1373.2,1034.6L1373.4,1036.1L1373.5,1037.6L1373.6,1039.1L1373.8,1040.6L1373.9,1042.1L1374.0,1043.6L1374.2,1045.1L1374.3,1046.6L1374.4,1048.0L1374.5,1049.5L1374.7,1051.0L1374.8,1052.5L1374.9,1054.0L1375.0,1055.5L1375.1,1057.0L1375.3,1058.5L1375.4,1060.0L1375.5,1061.5L1375.6,1063.0L1375.7,1064.5L1375.8,1066.0L1376.0,1067.5L1376.1,1069.0L1376.2,1070.5L1376.3,1072.0L1376.4,1073.5L1376.5,1075.0L1376.6,1076.5L1376.7,1078.0L1376.9,1079.4L1377.0,1080.9L1377.1,1082.4L1377.3,1083.9L1377.4,1085.4L1377.6,1086.9L1377.7,1088.4L1377.9,1089.9L1378.0,1091.4L1378.2,1092.9L1378.3,1094.4L1378.5,1095.9L1378.7,1097.4L1378.9,1098.8L1379.0,1100.3L1379.2,1101.8L1379.4,1103.3L1379.6,1104.8L1379.8,1106.3L1380.1,1107.8L1380.3,1109.3L1380.5,1110.7L1380.7,1112.2L1381.0,1113.7L1381.2,1115.2L1381.4,1116.7L1381.7,1118.1L1382.0,1119.6L1382.2,1121.1L1382.5,1122.6L1382.8,1124.0L1383.1,1125.5L1383.4,1127.0L1383.7,1128.5L1384.0,1129.9L1384.3,1131.4L1384.6,1132.9L1384.9,1134.3L1385.2,1135.8L1385.6,1137.2L1385.9,1138.7L1386.3,1140.2L1386.7,1141.6L1387.0,1143.1L1387.4,1144.5L1387.8,1146.0L1388.2,1147.4L1388.7,1148.8L1389.1,1150.3L1389.5,1151.7L1390.0,1153.1L1390.5,1154.6L1391.0,1156.0L1391.6,1157.4L1392.2,1158.7L1392.8,1160.1L1393.4,1161.5L1394.0,1162.8L1394.6,1164.2L1395.3,1165.5L1396.0,1166.9L1396.7,1168.2L1397.5,1169.5L1398.4,1170.6L1399.4,1171.6L1400.7,1172.0L1402.0,1171.8L1403.1,1171.1L1404.2,1170.0L1405.1,1168.8L1405.9,1167.6L1406.7,1166.3L1407.4,1165.0L1408.2,1163.7L1408.9,1162.4L1409.6,1161.0L1410.3,1159.7L1410.9,1158.4L1411.6,1157.0L1412.2,1155.7L1412.7,1154.3L1413.3,1152.9L1413.8,1151.4L1414.3,1150.0L1414.7,1148.6L1415.2,1147.2L1415.7,1145.7L1416.1,1144.3L1416.6,1142.9L1417.0,1141.5L1417.5,1140.0L1418.0,1138.6L1418.5,1137.2L1419.0,1135.8L1419.5,1134.4L1420.0,1133.0L1420.4,1131.5L1420.9,1130.1L1421.4,1128.7L1421.9,1127.3L1422.3,1125.8L1422.8,1124.4L1423.3,1123.0L1423.7,1121.6L1424.2,1120.1L1424.7,1118.7L1425.1,1117.3L1425.6,1115.9L1426.0,1114.4L1426.5,1113.0L1426.9,1111.6L1427.4,1110.1L1427.9,1108.7L1428.3,1107.3L1428.8,1105.9L1429.2,1104.4L1429.7,1103.0L1430.2,1101.6L1430.7,1100.2L1431.1,1098.7L1431.6,1097.3L1432.1,1095.9L1432.6,1094.5L1433.1,1093.0L1433.5,1091.6L1434.0,1090.2L1434.5,1088.8L1434.9,1087.3L1435.4,1085.9L1435.8,1084.5L1436.3,1083.1L1436.8,1081.6L1437.3,1080.2L1437.7,1078.8L1438.3,1077.4L1438.8,1076.0L1439.3,1074.6L1439.9,1073.2L1440.5,1071.8L1441.1,1070.5L1441.8,1069.1L1442.5,1067.8L1443.2,1066.5L1443.9,1065.1L1444.6,1063.8L1445.3,1062.5L1446.1,1061.2L1446.9,1059.9L1447.6,1058.7L1448.5,1057.4L1449.4,1056.2L1450.3,1055.0L1451.4,1054.0L1452.6,1053.2L1453.9,1052.9L1455.3,1053.0L1456.5,1053.7L1457.6,1054.7L1458.6,1055.8L1459.5,1057.0L1460.3,1058.3L1461.1,1059.5L1461.9,1060.8L1462.6,1062.2L1463.3,1063.5L1463.9,1064.8L1464.6,1066.2L1465.2,1067.5L1465.8,1068.9L1466.4,1070.3L1466.9,1071.7L1467.4,1073.1L1467.9,1074.6L1468.3,1076.0L1468.7,1077.5L1469.0,1078.9L1469.4,1080.4L1469.7,1081.8L1470.0,1083.3L1470.3,1084.8L1470.6,1086.2L1470.9,1087.7L1471.2,1089.2L1471.5,1090.7L1471.8,1092.1L1472.0,1093.6L1472.3,1095.1L1472.6,1096.5L1472.9,1098.0L1473.2,1099.5L1473.4,1101.0L1473.7,1102.4L1473.9,1103.9L1474.2,1105.4L1474.4,1106.9L1474.6,1108.4L1474.8,1109.9L1475.1,1111.3L1475.3,1112.8L1475.5,1114.3L1475.7,1115.8L1475.9,1117.3L1476.1,1118.8L1476.3,1120.3L1476.5,1121.7L1476.7,1123.2L1476.9,1124.7L1477.1,1126.2L1477.3,1127.7L1477.5,1129.2L1477.7,1130.7L1477.9,1132.1L1478.1,1133.6L1478.3,1135.1L1478.5,1136.6L1478.7,1138.1L1478.9,1139.6L1479.1,1141.1L1479.3,1142.6L1479.5,1144.0L1479.7,1145.5L1479.8,1147.0L1480.0,1148.5L1480.2,1150.0L1480.4,1151.5L1480.6,1153.0L1480.8,1154.5L1481.0,1156.0L1481.1,1157.4L1481.3,1158.9L1481.5,1160.4L1481.7,1161.9L1481.9,1163.4L1482.1,1164.9L1482.2,1166.4L1482.4,1167.9L1482.6,1169.4L1482.8,1170.8L1483.0,1172.3L1483.1,1173.8L1483.3,1175.3L1483.4,1176.8L1483.6,1178.3L1483.8,1179.8L1483.9,1181.3L1484.1,1182.8L1484.2,1184.3L1484.3,1185.8L1484.5,1187.3L1484.6,1188.7L1484.7,1190.2L1484.8,1191.7L1484.9,1193.2L1485.1,1194.7L1485.2,1196.2L1485.3,1197.7L1485.4,1199.2L1485.5,1200.7L1485.6,1202.2L1485.7,1203.7L1485.8,1205.2L1485.9,1206.7L1486.0,1208.2L1486.1,1209.7L1486.2,1211.2L1486.3,1212.7L1486.4,1214.2L1486.5,1215.7L1486.6,1217.2L1486.7,1218.7L1486.8,1220.2L1486.9,1221.7L1487.0,1223.2L1487.1,1224.7L1487.2,1226.2L1487.3,1227.7L1487.4,1229.1L1487.6,1230.6L1487.7,1232.1L1487.8,1233.6L1487.9,1235.1L1488.0,1236.6L1488.1,1238.1L1488.2,1239.6L1488.4,1241.1L1488.5,1242.6L1488.6,1244.1L1488.7,1245.6L1488.8,1247.1L1489.0,1248.6L1489.1,1250.1L1489.2,1251.6L1489.4,1253.1L1489.5,1254.6L1489.6,1256.1L1489.8,1257.6L1489.9,1259.0L1490.1,1260.5L1490.2,1262.0L1490.4,1263.5L1490.6,1265.0L1490.7,1266.5L1490.9,1268.0L1491.1,1269.5L1491.3,1271.0L1491.5,1272.5L1491.7,1273.9L1491.9,1275.4L1492.1,1276.9L1492.3,1278.4L1492.5,1279.9L1492.7,1281.4L1492.9,1282.9L1493.1,1284.3L1493.3,1285.8L1493.6,1287.3L1493.8,1288.8L1494.0,1290.3L1494.2,1291.8L1494.5,1293.2L1494.7,1294.7L1495.0,1296.2L1495.2,1297.7L1495.5,1299.2L1495.7,1300.6L1496.0,1302.1L1496.2,1303.6L1496.5,1305.1L1496.8,1306.5L1497.0,1308.0L1497.3,1309.5L1497.6,1311.0L1497.8,1312.5L1498.1,1313.9L1498.3,1315.4L1498.6,1316.9L1498.9,1318.4L1499.2,1319.8L1499.5,1321.3L1499.9,1322.7L1500.3,1324.2L1500.7,1325.6L1501.1,1327.1L1501.7,1328.5L1502.2,1329.9L1502.7,1331.3L1503.3,1332.7L1503.9,1334.0L1504.5,1335.4L1505.1,1336.8L1505.8,1338.1L1506.5,1339.4L1507.3,1340.7L1508.3,1341.8L1509.4,1342.6L1510.7,1342.8L1511.9,1342.4L1513.0,1341.4L1513.9,1340.3L1514.7,1339.0L1515.5,1337.7L1516.2,1336.4L1516.9,1335.1L1517.6,1333.7L1518.2,1332.4L1518.9,1331.1L1519.6,1329.7L1520.3,1328.4L1520.9,1327.0L1521.6,1325.7L1522.2,1324.3L1522.8,1322.9L1523.4,1321.6L1523.9,1320.2L1524.5,1318.8L1525.0,1317.4L1525.6,1316.0L1526.1,1314.6L1526.6,1313.2L1527.1,1311.8L1527.7,1310.4L1528.2,1308.9L1528.7,1307.5L1529.2,1306.1L1529.7,1304.7L1530.2,1303.3L1530.7,1301.9L1531.2,1300.5L1531.7,1299.0L1532.1,1297.6L1532.6,1296.2L1533.1,1294.8L1533.5,1293.3L1534.0,1291.9L1534.5,1290.5L1535.0,1289.1L1535.5,1287.7L1536.1,1286.3L1536.7,1284.9L1537.3,1283.5L1537.9,1282.2L1538.5,1280.8L1539.2,1279.4L1539.8,1278.1L1540.5,1276.8L1541.2,1275.5L1542.0,1274.2L1542.9,1272.9L1543.8,1271.7L1544.7,1270.6L1545.7,1269.5L1546.8,1268.4L1547.9,1267.4L1549.1,1266.6L1550.4,1266.1L1551.8,1266.1L1553.1,1266.7L1554.2,1267.6L1555.1,1268.7L1556.0,1270.0L1556.7,1271.3L1557.5,1272.6L1558.2,1273.9L1558.8,1275.2L1559.5,1276.6L1560.1,1278.0L1560.6,1279.4L1561.1,1280.8L1561.5,1282.2L1561.9,1283.7L1562.3,1285.1L1562.7,1286.6L1563.0,1288.0L1563.3,1289.5L1563.7,1291.0L1564.0,1292.4L1564.3,1293.9L1564.7,1295.3L1565.0,1296.8L1565.4,1298.3L1565.7,1299.7L1566.0,1301.2L1566.4,1302.7L1566.7,1304.1L1567.0,1305.6L1567.3,1307.1L1567.6,1308.5L1567.9,1310.0L1568.2,1311.5L1568.5,1312.9L1568.8,1314.4L1569.1,1315.9L1569.4,1317.4L1569.7,1318.8L1569.9,1320.3L1570.2,1321.8L1570.5,1323.2L1570.8,1324.7L1571.1,1326.2L1571.3,1327.7L1571.6,1329.1L1571.9,1330.6L1572.1,1332.1L1572.4,1333.6L1572.6,1335.1L1572.9,1336.5L1573.1,1338.0L1573.4,1339.5L1573.6,1341.0L1573.9,1342.4L1574.1,1343.9L1574.4,1345.4L1574.7,1346.9L1574.9,1348.4L1575.2,1349.8L1575.5,1351.3L1575.8,1352.8L1576.1,1354.2L1576.4,1355.7L1576.7,1357.2L1577.1,1358.6L1577.4,1360.1L1577.7,1361.6L1578.0,1363.0L1578.4,1364.5L1578.7,1365.9L1579.1,1367.4L1579.4,1368.9L1579.8,1370.3L1580.1,1371.8L1580.5,1373.2L1580.8,1374.7L1581.2,1376.2L1581.6,1377.6L1581.9,1379.1L1582.3,1380.5L1582.7,1382.0L1583.0,1383.4L1583.4,1384.9L1583.7,1386.3L1584.1,1387.8L1584.5,1389.2L1585.1,1390.6L1586.0,1391.8L1587.0,1392.8L1588.2,1393.7L1589.0,1394.3L1590.5,1394.5L1592.0,1394.7L1593.5,1394.8L1595.0,1395.0L1596.5,1395.2L1598.0,1395.3L1599.5,1395.4L1600.9,1395.6L1602.4,1395.7L1603.9,1395.8L1605.4,1395.9L1606.9,1395.9L1608.4,1396.0L1609.9,1396.1L1611.4,1396.2L1612.9,1396.2L1614.4,1396.3L1615.9,1396.4L1617.4,1396.4L1619.0,1396.5L1620.5,1396.6L1622.0,1396.6L1623.5,1396.7L1625.0,1396.7L1626.5,1396.8L1628.0,1396.9L1629.5,1396.9L1631.0,1397.0L1632.5,1397.0L1634.0,1397.1L1635.5,1397.2L1637.0,1397.2L1638.5,1397.3L1640.0,1397.3L1641.5,1397.4L1643.0,1397.5L1644.5,1397.5L1646.0,1397.6L1647.5,1397.7L1649.0,1397.7L1650.5,1397.8L1652.0,1397.9L1653.5,1397.9L1655.0,1398.0L1656.5,1398.1L1658.0,1398.2L1659.5,1398.2L1661.0,1398.3L1662.5,1398.4L1664.0,1398.5L1665.5,1398.5L1667.0,1398.6L1668.5,1398.7L1670.0,1398.8L1671.5,1398.9L1673.0,1398.9L1674.5,1399.0L1676.0,1399.1L1677.5,1399.2L1679.0,1399.2L1680.5,1399.3L1682.0,1399.4L1683.5,1399.5L1685.0,1399.5L1686.5,1399.6L1688.0,1399.7L1689.5,1399.8L1691.0,1399.8L1692.5,1399.9L1694.0,1400.0L1695.5,1400.0L1697.0,1400.1L1698.5,1400.2L1700.0,1400.2L1701.5,1400.3L1703.0,1400.4L1704.5,1400.4L1706.0,1400.5L1707.5,1400.6L1709.0,1400.6L1710.5,1400.7L1712.0,1400.8L1713.5,1400.8L1715.0,1400.9L1716.5,1401.0L1718.0,1401.0L1719.5,1401.1L1721.0,1401.2L1722.5,1401.2L1724.0,1401.3L1725.5,1401.4L1727.0,1401.4L1728.5,1401.5L1730.0,1401.6L1731.5,1401.6L1733.0,1401.7L1734.5,1401.8L1735.5,1401.8" stroke="#ff8000"/>
<path d="M231.4,1935.0L232.9,1935.0L234.4,1935.0L235.9,1935.1L237.4,1935.1L238.9,1935.1L240.4,1935.1L241.9,1935.1L243.4,1935.1L244.9,1935.2L246.4,1935.2L247.9,1935.2L249.4,1935.2L250.9,1935.2L252.4,1935.3L253.9,1935.3L255.4,1935.3L256.9,1935.3L258.4,1935.3L259.9,1935.3L261.4,1935.4L262.9,1935.4L264.4,1935.4L265.9,1935.4L267.4,1935.4L268.9,1935.4L270.4,1935.5L271.9,1935.5L273.4,1935.5L274.9,1935.5L276.4,1935.5L277.9,1935.6L279.4,1935.6L280.9,1935.6L282.4,1935.6L283.9,1935.6L285.4,1935.6L286.9,1935.7L288.4,1935.7L289.9,1935.7L291.4,1935.7L292.9,1935.7L294.4,1935.8L295.9,1935.8L297.4,1935.8L298.9,1935.8L300.4,1935.8L301.9,1935.8L303.4,1935.9L304.9,1935.9L306.4,1935.9L307.9,1935.9L309.4,1935.9L310.9,1936.0L312.4,1936.0L313.9,1936.0L315.4,1936.0L316.9,1936.0L318.4,1936.1L319.9,1936.1L321.4,1936.1L322.9,1936.1L324.4,1936.1L325.9,1936.2L327.4,1936.2L328.9,1936.2L330.4,1936.2L331.9,1936.2L333.4,1936.3L334.9,1936.3L336.4,1936.3L337.9,1936.3L339.4,1936.3L340.9,1936.4L342.4,1936.4L343.9,1936.4L345.4,1936.4L346.9,1936.5L348.4,1936.5L349.9,1936.5L351.4,1936.5L352.9,1936.5L354.4,1936.6L355.9,1936.6L357.4,1936.6L358.9,1936.6L360.4,1936.7L361.9,1936.7L363.4,1936.7L364.9,1936.7L366.4,1936.8L367.9,1936.8L369.4,1936.8L370.9,1936.8L372.4,1936.8L373.9,1936.9L375.4,1936.9L376.9,1936.9L378.4,1936.9L379.9,1937.0L381.4,1937.0L382.9,1937.0L384.4,1937.0L385.9,1937.1L387.4,1937.1L388.9,1937.1L390.4,1937.1L391.9,1937.2L393.4,1937.2L394.9,1937.2L396.4,1937.2L397.9,1937.3L399.4,1937.3L400.9,1937.3L402.4,1937.3L403.9,1937.3L405.4,1937.4L406.9,1937.4L408.4,1937.4L409.9,1937.4L411.4,1937.5L412.9,1937.5L414.4,1937.5L415.9,1937.5L417.4,1937.5L418.9,1937.6L420.4,1937.6L421.9,1937.6L423.4,1937.6L424.9,1937.6L426.4,1937.7L427.9,1937.7L429.4,1937.7L430.9,1937.7L432.4,1937.7L433.9,1937.8L435.4,1937.8L436.9,1937.8L438.4,1937.8L439.9,1937.8L441.4,1937.9L442.9,1937.9L444.4,1937.9L445.9,1937.9L447.4,1937.9L448.9,1937.9L450.4,1938.0L451.9,1938.0L453.4,1938.0L454.9,1938.0L456.4,1938.0L457.9,1938.1L459.4,1938.1L460.9,1938.1L462.4,1938.1L463.9,1938.1L465.4,1938.1L466.9,1938.1L468.4,1938.2L469.9,1938.2L471.4,1938.2L472.9,1938.2L474.4,1938.2L475.9,1938.2L477.4,1938.3L478.9,1938.3L480.4,1938.3L481.9,1938.3L483.4,1938.3L484.9,1938.3L486.4,1938.4L487.9,1938.4L489.4,1938.4L490.9,1938.4L492.4,1938.4L493.9,1938.4L495.4,1938.5L496.9,1938.5L498.4,1938.5L499.9,1938.5L501.4,1938.5L502.9,1938.5L504.4,1938.5L505.9,1938.6L507.4,1938.6L508.9,1938.6L510.4,1938.6L511.9,1938.6L513.4,1938.6L514.9,1938.7L516.4,1938.7L517.9,1938.7L518.4,1938.7L519.7,1937.9L520.9,1937.1L522.2,1936.3L523.4,1935.4L524.7,1934.6L525.9,1933.8L527.2,1933.0L528.5,1932.1L529.7,1931.3L531.0,1930.5L532.2,1929.7L533.5,1928.9L534.8,1928.1L536.0,1927.3L537.3,1926.5L538.6,1925.8L539.9,1925.0L541.2,1924.3L542.5,1923.5L543.8,1922.8L545.1,1922.1L546.5,1921.3L547.8,1920.6L549.1,1919.9L550.4,1919.2L551.7,1918.5L553.1,1917.8L554.4,1917.1L555.8,1916.5L557.1,1915.8L558.5,1915.2L559.8,1914.5L561.2,1913.9L562.6,1913.3L564.0,1912.8L565.4,1912.2L566.8,1911.7L568.2,1911.2L569.6,1910.6L571.0,1910.2L572.4,1909.7L573.9,1909.2L575.3,1908.8L576.7,1908.4L578.2,1908.0L579.6,1907.6L581.1,1907.2L582.5,1906.8L584.0,1906.5L585.4,1906.2L586.9,1905.8L588.4,1905.5L589.9,1905.2L591.3,1905.0L592.8,1904.7L594.3,1904.5L595.8,1904.2L597.3,1904.0L598.7,1903.9L600.2,1903.7L601.7,1903.5L603.2,1903.4L604.7,1903.3L606.2,1903.1L607.7,1903.0L609.2,1902.9L610.7,1902.8L612.2,1902.7L613.7,1902.6L615.2,1902.5L616.7,1902.4L618.2,1902.3L619.7,1902.1L621.2,1902.0L622.7,1901.9L624.2,1901.8L625.7,1901.7L627.2,1901.7L628.7,1901.6L630.2,1901.6L631.7,1901.6L633.2,1901.6L634.7,1901.6L636.2,1901.7L637.7,1901.7L639.2,1901.8L640.7,1901.9L642.1,1902.1L643.6,1902.2L645.1,1902.4L646.6,1902.5L648.1,1902.7L649.6,1902.9L651.1,1903.1L652.6,1903.3L654.1,1903.6L655.5,1903.8L657.0,1904.0L658.5,1904.3L660.0,1904.5L661.5,1904.7L662.9,1905.0L664.4,1905.3L665.9,1905.5L667.4,1905.8L668.9,1906.0L670.3,1906.3L671.8,1906.6L673.3,1906.9L674.8,1907.1L676.2,1907.4L677.7,1907.7L679.2,1908.0L680.6,1908.3L682.1,1908.6L683.6,1908.9L685.0,1909.3L686.5,1909.6L688.0,1909.9L689.4,1910.3L690.9,1910.6L692.3,1911.0L693.8,1911.3L695.3,1911.7L696.7,1912.0L698.2,1912.4L699.6,1912.7L701.1,1913.1L702.6,1913.4L704.0,1913.8L705.5,1914.1L706.9,1914.5L708.4,1914.8L709.9,1915.2L711.3,1915.5L712.8,1915.8L714.2,1916.2L715.7,1916.5L717.2,1916.8L718.6,1917.1L720.1,1917.4L721.6,1917.7L723.0,1918.0L724.5,1918.3L726.0,1918.6L727.5,1918.9L728.9,1919.2L730.4,1919.5L731.9,1919.8L733.4,1920.0L734.8,1920.3L736.3,1920.6L737.8,1920.9L739.3,1921.2L740.7,1921.4L742.2,1921.7L743.7,1922.0L745.2,1922.2L746.6,1922.5L748.1,1922.7L749.6,1923.0L751.1,1923.2L752.6,1923.5L754.0,1923.7L755.5,1924.0L757.0,1924.2L758.5,1924.4L760.0,1924.6L761.4,1924.9L762.9,1925.1L764.4,1925.3L765.9,1925.5L767.4,1925.7L768.9,1925.9L770.4,1926.1L771.9,1926.2L773.3,1926.4L774.8,1926.6L776.3,1926.7L777.8,1926.9L779.3,1927.1L780.8,1927.2L782.3,1927.3L783.8,1927.5L785.3,1927.6L786.8,1927.7L788.3,1927.8L789.8,1927.9L791.3,1928.0L792.8,1928.1L794.3,1928.2L795.8,1928.3L797.3,1928.4L798.8,1928.5L800.3,1928.6L801.8,1928.7L803.3,1928.7L804.8,1928.8L806.3,1928.9L807.8,1928.9L809.3,1929.0L810.8,1929.1L812.3,1929.1L813.8,1929.2L815.3,1929.2L816.7,1929.3L818.2,1929.3L819.7,1929.4L821.2,1929.4L822.7,1929.5L824.2,1929.5L825.7,1929.6L827.2,1929.6L828.7,1929.6L830.2,1929.7L831.7,1929.7L833.2,1929.8L834.7,1929.8L836.2,1929.8L837.7,1929.8L839.2,1929.8L840.7,1929.9L842.2,1929.9L843.7,1929.9L845.2,1929.9L846.7,1929.9L848.2,1929.9L849.7,1929.8L851.2,1929.8L852.7,1929.8L854.2,1929.7L855.7,1929.7L857.2,1929.6L858.7,1929.6L860.2,1929.5L861.7,1929.5L863.2,1929.4L864.7,1929.3L866.2,1929.2L867.7,1929.1L869.2,1929.0L870.7,1928.9L872.2,1928.8L873.7,1928.7L875.2,1928.6L876.7,1928.4L878.2,1928.3L879.7,1928.2L881.2,1928.0L882.7,1927.9L884.2,1927.8L885.7,1927.6L887.2,1927.5L888.7,1927.3L890.2,1927.2L891.6,1927.0L893.1,1926.9L894.6,1926.7L896.1,1926.5L897.6,1926.4L899.1,1926.2L900.6,1926.1L902.1,1925.9L903.6,1925.8L905.1,1925.6L906.6,1925.4L908.1,1925.3L909.6,1925.1L911.0,1925.0L912.5,1924.8L914.0,1924.6L915.5,1924.5L917.0,1924.3L918.5,1924.2L920.0,1924.0L921.5,1923.8L923.0,1923.6L924.5,1923.5L926.0,1923.3L927.4,1923.1L928.9,1922.9L930.4,1922.8L931.9,1922.6L933.4,1922.4L934.9,1922.2L936.4,1922.0L937.9,1921.9L939.4,1921.7L940.8,1921.5L942.3,1921.3L943.8,1921.1L945.3,1921.0L946.8,1920.8L948.3,1920.6L949.8,1920.4L951.3,1920.2L952.8,1920.0L954.3,1919.9L955.7,1919.7L957.2,1919.5L958.7,1919.3L960.2,1919.1L961.7,1919.0L963.2,1918.8L964.7,1918.6L966.2,1918.4L967.7,1918.3L969.2,1918.1L970.6,1918.0L972.1,1917.8L973.6,1917.6L975.1,1917.5L976.6,1917.3L978.1,1917.1L979.6,1917.0L981.1,1916.8L982.6,1916.6L984.1,1916.4L985.6,1916.3L987.0,1916.1L988.5,1915.9L990.0,1915.7L991.5,1915.5L993.0,1915.2L994.5,1915.0L996.0,1914.8L997.4,1914.6L998.9,1914.3L1000.4,1914.1L1001.9,1913.8L1003.3,1913.5L1004.8,1913.3L1006.3,1913.0L1007.8,1912.7L1009.2,1912.5L1010.7,1912.2L1012.2,1911.9L1013.7,1911.6L1015.1,1911.3L1016.6,1911.1L1018.1,1910.8L1019.6,1910.5L1021.0,1910.2L1022.5,1910.0L1024.0,1909.7L1025.5,1909.4L1026.9,1909.2L1028.4,1908.9L1029.9,1908.7L1031.4,1908.4L1032.9,1908.2L1034.3,1907.9L1035.8,1907.7L1037.3,1907.4L1038.8,1907.2L1040.3,1906.9L1041.7,1906.7L1043.2,1906.5L1044.7,1906.2L1046.2,1906.0L1047.7,1905.7L1049.2,1905.5L1050.6,1905.3L1052.1,1905.0L1053.6,1904.8L1055.1,1904.5L1056.6,1904.3L1058.0,1904.1L1059.5,1903.8L1061.0,1903.6L1062.5,1903.3L1064.0,1903.1L1065.4,1902.9L1066.9,1902.6L1068.4,1902.4L1069.9,1902.1L1071.4,1901.9L1072.8,1901.6L1074.3,1901.4L1075.8,1901.1L1077.3,1900.9L1078.8,1900.6L1080.2,1900.3L1081.7,1900.1L1083.2,1899.8L1084.7,1899.5L1086.1,1899.3L1087.6,1899.0L1089.1,1898.8L1090.6,1898.5L1092.1,1898.3L1093.5,1898.0L1095.0,1897.8L1096.5,1897.5L1098.0,1897.3L1099.5,1897.0L1100.9,1896.8L1102.4,1896.5L1103.9,1896.3L1105.4,1896.0L1106.8,1895.7L1108.3,1895.5L1109.8,1895.2L1111.3,1894.9L1112.7,1894.6L1114.2,1894.3L1115.7,1894.0L1117.2,1893.7L1118.6,1893.4L1120.1,1893.1L1121.5,1892.7L1123.0,1892.4L1124.5,1892.0L1125.9,1891.6L1127.3,1891.2L1128.8,1890.8L1130.2,1890.4L1131.6,1889.9L1133.1,1889.4L1134.5,1888.9L1135.9,1888.4L1137.3,1887.9L1138.7,1887.3L1140.1,1886.8L1141.5,1886.2L1142.9,1885.6L1144.2,1885.0L1145.6,1884.4L1147.0,1883.8L1148.3,1883.1L1149.7,1882.5L1151.0,1881.8L1152.4,1881.1L1153.7,1880.5L1155.0,1879.8L1156.4,1879.1L1157.7,1878.4L1159.0,1877.6L1160.3,1876.9L1161.6,1876.1L1162.9,1875.4L1164.2,1874.6L1165.4,1873.8L1166.7,1873.0L1167.9,1872.1L1169.2,1871.3L1170.4,1870.4L1171.6,1869.6L1172.9,1868.7L1174.1,1867.9L1175.3,1867.0L1176.6,1866.2L1177.8,1865.3L1179.0,1864.4L1180.2,1863.5L1181.4,1862.6L1182.6,1861.7L1183.8,1860.8L1185.0,1859.9L1186.2,1859.0L1187.4,1858.1L1188.5,1857.1L1189.7,1856.2L1190.9,1855.3L1192.1,1854.4L1193.3,1853.5L1194.5,1852.6L1195.8,1851.7L1197.0,1850.9L1198.2,1850.0L1199.4,1849.1L1200.6,1848.2L1201.8,1847.4L1203.1,1846.5L1204.3,1845.6L1205.5,1844.8L1206.8,1843.9L1208.0,1843.1L1209.2,1842.2L1210.5,1841.4L1211.7,1840.6L1213.0,1839.7L1214.2,1838.9L1215.5,1838.1L1216.7,1837.3L1218.0,1836.4L1219.2,1835.6L1220.5,1834.8L1221.8,1833.9L1223.0,1833.1L1224.3,1832.3L1225.6,1831.6L1226.9,1830.8L1228.2,1830.1L1229.5,1829.4L1230.9,1828.7L1232.2,1828.1L1233.6,1827.5L1235.0,1826.9L1236.4,1826.4L1237.8,1825.9L1239.2,1825.4L1240.6,1824.9L1242.0,1824.4L1243.5,1824.0L1244.9,1823.6L1246.4,1823.2L1247.8,1822.8L1249.3,1822.5L1250.7,1822.1L1252.2,1821.9L1253.7,1821.7L1255.2,1821.5L1256.7,1821.4L1258.2,1821.4L1259.7,1821.4L1261.2,1821.6L1262.7,1821.8L1264.1,1822.0L1265.6,1822.3L1267.1,1822.7L1268.5,1823.1L1269.9,1823.6L1271.3,1824.1L1272.7,1824.7L1274.1,1825.2L1275.5,1825.8L1276.9,1826.4L1278.2,1827.0L1279.6,1827.7L1280.9,1828.4L1282.2,1829.2L1283.4,1830.0L1284.7,1830.8L1286.0,1831.5L1287.4,1832.0L1288.8,1832.3L1290.3,1832.2L1291.7,1831.8L1293.1,1831.2L1294.3,1830.4L1295.5,1829.6L1296.7,1828.6L1297.7,1827.5L1298.7,1826.4L1299.6,1825.2L1300.4,1824.0L1301.1,1822.6L1301.8,1821.3L1302.3,1819.9L1302.8,1818.5L1303.2,1817.0L1303.6,1815.6L1304.0,1814.1L1304.4,1812.7L1304.7,1811.2L1305.1,1809.8L1305.5,1808.3L1305.8,1806.8L1306.2,1805.4L1306.6,1804.0L1307.0,1802.5L1307.4,1801.1L1307.8,1799.6L1308.2,1798.2L1308.6,1796.7L1308.9,1795.2L1309.3,1793.8L1309.6,1792.3L1310.0,1790.9L1310.3,1789.4L1310.7,1788.0L1311.0,1786.5L1311.3,1785.0L1311.6,1783.6L1312.0,1782.1L1312.3,1780.6L1312.6,1779.2L1312.9,1777.7L1313.2,1776.2L1313.5,1774.7L1313.7,1773.3L1314.0,1771.8L1314.3,1770.3L1314.5,1768.8L1314.8,1767.4L1315.0,1765.9L1315.2,1764.4L1315.4,1762.9L1315.6,1761.4L1315.9,1759.9L1316.1,1758.5L1316.3,1757.0L1316.5,1755.5L1316.7,1754.0L1316.9,1752.5L1317.0,1751.0L1317.2,1749.5L1317.4,1748.0L1317.6,1746.6L1317.8,1745.1L1318.0,1743.6L1318.2,1742.1L1318.4,1740.6L1318.6,1739.1L1318.8,1737.6L1319.0,1736.1L1319.2,1734.6L1319.4,1733.2L1319.5,1731.7L1319.7,1730.2L1319.9,1728.7L1320.1,1727.2L1320.3,1725.7L1320.4,1724.2L1320.6,1722.7L1320.8,1721.2L1321.0,1719.8L1321.1,1718.3L1321.3,1716.8L1321.5,1715.3L1321.7,1713.8L1321.9,1712.3L1322.0,1710.8L1322.2,1709.3L1322.4,1707.8L1322.6,1706.3L1322.8,1704.9L1323.0,1703.4L1323.2,1701.9L1323.4,1700.4L1323.6,1698.9L1323.8,1697.4L1324.0,1695.9L1324.2,1694.4L1324.4,1693.0L1324.6,1691.5L1324.8,1690.0L1325.0,1688.5L1325.2,1687.0L1325.4,1685.5L1325.6,1684.0L1325.8,1682.6L1326.0,1681.1L1326.2,1679.6L1326.4,1678.1L1326.6,1676.6L1326.8,1675.1L1327.0,1673.6L1327.2,1672.1L1327.4,1670.7L1327.6,1669.2L1327.8,1667.7L1328.0,1666.2L1328.2,1664.7L1328.4,1663.2L1328.6,1661.7L1328.8,1660.3L1329.0,1658.8L1329.2,1657.3L1329.4,1655.8L1329.7,1654.3L1329.9,1652.8L1330.2,1651.4L1330.5,1649.9L1330.8,1648.4L1331.1,1646.9L1331.4,1645.5L1331.7,1644.0L1332.0,1642.5L1332.3,1641.1L1332.6,1639.6L1333.0,1638.1L1333.3,1636.7L1333.6,1635.2L1334.0,1633.8L1334.3,1632.3L1334.7,1630.8L1335.0,1629.4L1335.4,1627.9L1335.8,1626.5L1336.2,1625.0L1336.6,1623.6L1337.0,1622.2L1337.5,1620.7L1337.9,1619.3L1338.3,1617.8L1338.8,1616.4L1339.2,1615.0L1339.6,1613.5L1340.0,1612.1L1340.5,1610.7L1341.1,1609.3L1341.9,1608.1L1342.9,1607.3L1344.1,1607.2L1345.3,1607.8L1346.3,1608.8L1347.3,1609.9L1348.1,1611.2L1348.9,1612.4L1349.7,1613.7L1350.4,1615.0L1351.1,1616.4L1351.8,1617.7L1352.4,1619.1L1353.0,1620.5L1353.5,1621.9L1353.9,1623.3L1354.4,1624.7L1354.8,1626.2L1355.2,1627.6L1355.5,1629.1L1355.9,1630.5L1356.3,1632.0L1356.6,1633.4L1357.0,1634.9L1357.4,1636.3L1357.8,1637.8L1358.2,1639.2L1358.6,1640.7L1359.0,1642.1L1359.4,1643.6L1359.8,1645.0L1360.1,1646.5L1360.5,1647.9L1360.9,1649.4L1361.3,1650.8L1361.7,1652.3L1362.0,1653.7L1362.4,1655.2L1362.8,1656.6L1363.2,1658.1L1363.5,1659.5L1363.9,1661.0L1364.3,1662.4L1364.7,1663.9L1365.1,1665.3L1365.5,1666.8L1365.9,1668.2L1366.3,1669.7L1366.7,1671.1L1367.1,1672.6L1367.5,1674.0L1367.9,1675.5L1368.3,1676.9L1368.7,1678.4L1369.0,1679.8L1369.4,1681.3L1369.8,1682.7L1370.2,1684.2L1370.6,1685.6L1371.0,1687.1L1371.4,1688.5L1371.8,1689.9L1372.3,1691.4L1372.7,1692.8L1373.2,1694.2L1373.6,1695.7L1374.1,1697.1L1374.7,1698.5L1375.2,1699.9L1375.7,1701.3L1376.3,1702.7L1376.9,1704.1L1377.5,1705.4L1378.1,1706.8L1378.7,1708.2L1379.3,1709.6L1380.0,1710.9L1380.7,1712.2L1381.4,1713.5L1382.2,1714.8L1383.1,1716.0L1384.0,1717.2L1385.0,1718.3L1386.1,1719.3L1387.3,1720.2L1388.5,1721.1L1389.8,1721.9L1391.1,1722.5L1392.5,1723.0L1394.0,1723.4L1395.5,1723.6L1396.9,1723.5L1398.4,1723.2L1399.8,1722.8L1401.2,1722.2L1402.5,1721.5L1403.8,1720.7L1405.1,1719.9L1406.3,1719.1L1407.6,1718.2L1408.8,1717.4L1410.0,1716.5L1411.2,1715.6L1412.4,1714.7L1413.5,1713.7L1414.6,1712.6L1415.6,1711.6L1416.7,1710.5L1417.7,1709.4L1418.8,1708.4L1419.9,1707.3L1421.0,1706.3L1422.1,1705.3L1423.2,1704.3L1424.4,1703.4L1425.7,1702.6L1426.9,1701.7L1428.2,1700.9L1429.4,1700.1L1430.7,1699.3L1432.0,1698.6L1433.3,1697.8L1434.6,1697.1L1436.0,1696.5L1437.4,1695.9L1438.8,1695.3L1440.2,1694.9L1441.6,1694.5L1443.1,1694.3L1444.6,1694.3L1446.1,1694.4L1447.6,1694.7L1449.0,1695.1L1450.4,1695.6L1451.7,1696.3L1453.0,1697.0L1454.3,1697.8L1455.5,1698.8L1456.6,1699.8L1457.6,1700.8L1458.6,1702.0L1459.4,1703.2L1460.3,1704.5L1461.0,1705.8L1461.7,1707.1L1462.4,1708.4L1463.0,1709.8L1463.7,1711.1L1464.3,1712.5L1464.8,1713.9L1465.4,1715.3L1466.0,1716.7L1466.6,1718.1L1467.1,1719.4L1467.7,1720.8L1468.3,1722.2L1468.8,1723.6L1469.3,1725.0L1469.8,1726.5L1470.3,1727.9L1470.7,1729.3L1471.2,1730.7L1471.6,1732.2L1472.0,1733.6L1472.4,1735.1L1472.9,1736.5L1473.2,1737.9L1473.6,1739.4L1474.0,1740.8L1474.4,1742.3L1474.8,1743.7L1475.2,1745.2L1475.5,1746.7L1475.9,1748.1L1476.3,1749.6L1476.6,1751.0L1476.9,1752.5L1477.3,1754.0L1477.6,1755.4L1477.9,1756.9L1478.2,1758.4L1478.5,1759.8L1478.8,1761.3L1479.2,1762.8L1479.5,1764.2L1479.8,1765.7L1480.1,1767.2L1480.4,1768.6L1480.7,1770.1L1481.0,1771.6L1481.3,1773.0L1481.6,1774.5L1481.9,1776.0L1482.2,1777.4L1482.5,1778.9L1482.8,1780.4L1483.1,1781.9L1483.4,1783.3L1483.6,1784.8L1483.9,1786.3L1484.2,1787.8L1484.5,1789.2L1484.8,1790.7L1485.1,1792.2L1485.3,1793.6L1485.6,1795.1L1485.9,1796.6L1486.2,1798.1L1486.5,1799.5L1486.8,1801.0L1487.1,1802.5L1487.4,1803.9L1487.7,1805.4L1488.0,1806.9L1488.3,1808.4L1488.6,1809.8L1488.9,1811.3L1489.2,1812.8L1489.4,1814.2L1489.7,1815.7L1490.0,1817.2L1490.3,1818.7L1490.6,1820.1L1490.9,1821.6L1491.2,1823.1L1491.6,1824.5L1492.0,1826.0L1492.3,1827.4L1492.8,1828.9L1493.3,1830.3L1493.8,1831.7L1494.5,1833.0L1495.2,1834.3L1496.0,1835.6L1496.8,1836.9L1497.6,1838.2L1498.1,1839.0L1499.4,1839.7L1500.7,1840.5L1502.0,1841.2L1503.3,1842.0L1504.6,1842.8L1505.9,1843.5L1507.2,1844.3L1508.5,1845.0L1509.8,1845.8L1511.1,1846.5L1512.4,1847.3L1513.7,1848.0L1515.0,1848.8L1516.3,1849.5L1517.6,1850.2L1518.9,1850.9L1520.3,1851.6L1521.6,1852.3L1522.9,1853.0L1524.3,1853.7L1525.6,1854.4L1527.0,1855.0L1528.3,1855.7L1529.7,1856.3L1531.0,1857.0L1532.4,1857.6L1533.7,1858.3L1535.1,1858.9L1536.5,1859.5L1537.8,1860.1L1539.2,1860.8L1540.6,1861.4L1541.9,1862.0L1543.3,1862.6L1544.7,1863.2L1546.1,1863.8L1547.5,1864.4L1548.8,1864.9L1550.2,1865.5L1551.6,1866.1L1553.0,1866.7L1554.4,1867.2L1555.8,1867.8L1557.2,1868.3L1558.6,1868.9L1560.0,1869.4L1561.4,1869.9L1562.8,1870.5L1564.2,1871.0L1565.6,1871.5L1567.0,1872.0L1568.4,1872.5L1569.8,1873.0L1571.3,1873.5L1572.7,1874.0L1574.1,1874.5L1575.5,1875.0L1576.9,1875.4L1578.4,1875.9L1579.8,1876.4L1581.2,1876.8L1582.7,1877.3L1584.1,1877.7L1585.5,1878.2L1587.0,1878.6L1588.4,1879.0L1589.9,1879.4L1591.3,1879.8L1592.7,1880.2L1594.2,1880.6L1595.6,1881.0L1597.1,1881.4L1598.6,1881.8L1600.0,1882.1L1601.5,1882.5L1602.9,1882.8L1604.4,1883.2L1605.8,1883.5L1607.3,1883.9L1608.8,1884.2L1610.2,1884.6L1611.7,1884.9L1613.1,1885.3L1614.6,1885.6L1616.1,1885.9L1617.5,1886.3L1619.0,1886.6L1620.5,1887.0L1621.9,1887.3L1623.4,1887.7L1624.8,1888.0L1626.3,1888.3L1627.8,1888.7L1629.2,1889.0L1630.7,1889.4L1632.2,1889.7L1633.6,1890.0L1635.1,1890.4L1636.5,1890.7L1638.0,1891.0L1639.5,1891.3L1640.9,1891.7L1642.4,1892.0L1643.9,1892.3L1645.3,1892.6L1646.8,1892.9L1648.3,1893.2L1649.8,1893.5L1651.2,1893.8L1652.7,1894.1L1654.2,1894.4L1655.6,1894.7L1657.1,1895.0L1658.6,1895.3L1660.1,1895.5L1661.5,1895.8L1663.0,1896.1L1664.5,1896.4L1666.0,1896.6L1667.4,1896.9L1668.9,1897.2L1670.4,1897.4L1671.9,1897.7L1673.4,1897.9L1674.8,1898.2L1676.3,1898.4L1677.8,1898.7L1679.3,1898.9L1680.8,1899.1L1682.3,1899.3L1683.7,1899.6L1685.2,1899.8L1686.7,1900.0L1688.2,1900.2L1689.7,1900.4L1691.2,1900.7L1692.7,1900.9L1694.1,1901.1L1695.6,1901.3L1697.1,1901.5L1698.6,1901.7L1700.1,1901.9L1701.6,1902.0L1703.1,1902.2L1704.6,1902.4L1706.1,1902.6L1707.5,1902.7L1709.0,1902.9L1710.5,1903.1L1712.0,1903.2L1713.5,1903.4L1715.0,1903.5L1716.5,1903.6L1718.0,1903.7L1719.5,1903.8L1721.0,1903.9L1722.5,1904.0L1724.0,1904.0L1725.5,1904.1L1727.0,1904.1L1728.5,1904.2L1730.0,1904.2L1731.5,1904.3L1733.0,1904.3L1734.5,1904.4L1735.5,1904.4" stroke="#ff00ff"/>
<path d="M231.4,2211.3L232.9,2211.3L234.4,2211.3L235.9,2211.3L237.4,2211.3L238.9,2211.3L240.4,2211.3L241.9,2211.3L243.4,2211.3L244.9,2211.3L246.4,2211.3L247.9,2211.3L249.4,2211.3L250.9,2211.3L252.4,2211.2L253.9,2211.2L255.4,2211.2L256.9,2211.2L258.4,2211.2L259.9,2211.2L261.4,2211.2L262.9,2211.2L264.4,2211.2L265.9,2211.2L267.4,2211.2L268.9,2211.2L270.4,2211.2L271.9,2211.2L273.4,2211.2L274.9,2211.2L276.4,2211.2L277.9,2211.2L279.4,2211.2L280.9,2211.2L282.4,2211.2L283.9,2211.2L285.4,2211.2L286.9,2211.2L288.4,2211.2L289.9,2211.2L291.4,2211.2L292.9,2211.2L294.4,2211.2L295.9,2211.2L297.4,2211.2L298.9,2211.2L300.4,2211.2L301.9,2211.2L303.4,2211.2L304.9,2211.1L306.4,2211.1L307.9,2211.1L309.4,2211.1L310.9,2211.1L312.4,2211.1L313.9,2211.1L315.4,2211.1L316.9,2211.1L318.4,2211.1L319.9,2211.1L321.4,2211.1L322.9,2211.1L324.4,2211.1L325.9,2211.1L327.4,2211.1L328.9,2211.1L330.4,2211.1L331.9,2211.1L333.4,2211.1L334.9,2211.1L336.4,2211.1L337.9,2211.1L339.4,2211.1L340.9,2211.1L342.4,2211.1L343.9,2211.1L345.4,2211.1L346.9,2211.1L348.4,2211.1L349.9,2211.0L351.4,2211.0L352.9,2211.0L354.4,2211.0L355.9,2211.0L357.4,2211.0L358.9,2211.0L360.4,2211.0L361.9,2211.0L363.4,2211.0L364.9,2211.0L366.4,2211.0L367.9,2211.0L369.4,2211.0L370.9,2211.0L372.4,2211.0L373.9,2211.0L375.4,2211.0L376.9,2210.9L378.4,2210.9L379.9,2210.9L381.4,2210.9L382.9,2210.9L384.4,2210.9L385.9,2210.9L387.4,2210.9L388.9,2210.9L390.4,2210.9L391.9,2210.9L393.4,2210.9L394.9,2210.9L396.4,2210.8L397.9,2210.8L399.4,2210.8L400.9,2210.8L402.4,2210.8L403.9,2210.8L405.4,2210.8L406.9,2210.8L408.4,2210.8L409.9,2210.8L411.4,2210.7L412.9,2210.7L414.4,2210.7L415.9,2210.7L417.4,2210.7L418.9,2210.7L420.4,2210.7L421.9,2210.7L423.4,2210.7L424.9,2210.7L426.4,2210.6L427.9,2210.6L429.4,2210.6L430.9,2210.6L432.4,2210.6L433.9,2210.6L435.4,2210.6L436.9,2210.6L438.4,2210.5L439.9,2210.5L441.4,2210.5L442.9,2210.5L444.4,2210.5L446.0,2210.5L447.5,2210.5L449.0,2210.5L450.5,2210.4L452.0,2210.4L453.5,2210.4L455.0,2210.4L456.5,2210.4L458.0,2210.4L459.5,2210.4L461.0,2210.4L462.5,2210.3L464.0,2210.3L465.5,2210.3L467.0,2210.3L468.5,2210.3L470.0,2210.3L471.5,2210.2L473.0,2210.2L474.5,2210.2L476.0,2210.2L477.5,2210.2L479.0,2210.2L480.5,2210.1L482.0,2210.1L483.5,2210.1L485.0,2210.1L486.5,2210.1L488.0,2210.1L489.5,2210.0L491.0,2210.0L492.5,2210.0L494.0,2210.0L495.5,2210.0L497.0,2209.9L498.5,2209.9L500.0,2209.9L501.5,2209.9L503.0,2209.8L504.5,2209.8L506.0,2209.8L507.5,2209.8L509.0,2209.7L510.5,2209.7L512.0,2209.7L513.5,2209.6L515.0,2209.6L516.5,2209.6L518.0,2209.6L519.5,2209.5L521.0,2209.5L522.5,2209.5L524.0,2209.5L525.5,2209.5L527.0,2209.5L528.5,2209.5L530.0,2209.5L531.5,2209.5L533.0,2209.5L534.5,2209.4L536.0,2209.4L537.5,2209.4L539.0,2209.4L540.5,2209.4L542.0,2209.4L543.5,2209.3L545.0,2209.3L546.5,2209.2L548.0,2209.2L549.5,2209.1L551.0,2209.0L552.5,2208.9L554.0,2208.8L555.4,2208.6L556.9,2208.5L558.4,2208.2L559.9,2208.0L561.4,2207.7L562.8,2207.4L564.3,2207.0L565.7,2206.6L567.2,2206.2L568.6,2205.8L570.1,2205.4L571.5,2204.9L572.9,2204.5L574.4,2204.1L575.8,2203.8L577.3,2203.5L578.8,2203.2L580.3,2203.0L581.7,2202.8L583.2,2202.6L584.7,2202.5L586.2,2202.3L587.7,2202.2L589.2,2202.1L590.7,2202.0L592.2,2201.9L593.7,2201.8L595.2,2201.7L596.7,2201.5L598.2,2201.4L599.7,2201.2L601.2,2201.1L602.7,2200.9L604.2,2200.7L605.6,2200.5L607.1,2200.3L608.6,2200.0L610.1,2199.8L611.6,2199.6L613.1,2199.4L614.5,2199.2L616.0,2199.0L617.5,2198.7L619.0,2198.5L620.5,2198.3L622.0,2198.1L623.5,2198.0L625.0,2197.8L626.4,2197.6L627.9,2197.5L629.4,2197.4L630.9,2197.3L632.4,2197.2L633.9,2197.1L635.4,2197.0L636.9,2197.0L638.4,2196.9L639.9,2196.9L641.4,2196.8L642.9,2196.8L644.4,2196.8L645.9,2196.7L647.4,2196.7L648.9,2196.6L650.4,2196.6L651.9,2196.5L653.4,2196.4L654.9,2196.4L656.4,2196.3L657.9,2196.3L659.4,2196.2L660.9,2196.1L662.4,2196.1L663.9,2196.0L665.4,2195.9L666.9,2195.9L668.4,2195.8L669.9,2195.7L671.4,2195.7L672.9,2195.6L674.4,2195.6L675.9,2195.5L677.4,2195.4L678.9,2195.4L680.4,2195.3L681.9,2195.3L683.4,2195.3L684.9,2195.2L686.4,2195.2L687.9,2195.2L689.4,2195.1L690.9,2195.1L692.4,2195.1L693.9,2195.1L695.4,2195.1L696.9,2195.1L698.4,2195.1L699.9,2195.1L701.4,2195.1L702.9,2195.1L704.4,2195.1L705.9,2195.1L707.4,2195.1L708.9,2195.1L710.4,2195.1L711.9,2195.2L713.4,2195.2L714.9,2195.2L716.4,2195.2L717.9,2195.3L719.4,2195.3L720.9,2195.4L722.4,2195.4L723.9,2195.4L725.4,2195.5L726.9,2195.5L728.4,2195.6L729.9,2195.6L731.4,2195.7L732.9,2195.7L734.4,2195.8L735.9,2195.9L737.4,2195.9L738.9,2196.0L740.4,2196.1L741.9,2196.1L743.4,2196.2L744.9,2196.3L746.4,2196.4L747.9,2196.5L749.4,2196.5L750.9,2196.6L752.4,2196.7L753.9,2196.8L755.4,2196.9L756.9,2197.0L758.4,2197.1L759.9,2197.2L761.4,2197.3L762.9,2197.4L764.4,2197.5L765.9,2197.6L767.4,2197.7L768.9,2197.8L770.4,2197.9L771.9,2198.0L773.3,2198.1L774.8,2198.2L776.3,2198.3L777.8,2198.4L779.3,2198.5L780.8,2198.7L782.3,2198.8L783.8,2198.9L785.3,2199.0L786.8,2199.1L788.3,2199.2L789.8,2199.4L791.3,2199.5L792.8,2199.6L794.3,2199.7L795.8,2199.8L797.3,2200.0L798.8,2200.1L800.3,2200.2L801.8,2200.3L803.3,2200.5L804.8,2200.6L806.2,2200.8L807.7,2200.9L809.2,2201.0L810.7,2201.2L812.2,2201.3L813.7,2201.5L815.2,2201.6L816.7,2201.8L818.2,2202.0L819.7,2202.1L821.2,2202.3L822.7,2202.4L824.2,2202.6L825.6,2202.8L827.1,2202.9L828.6,2203.1L830.1,2203.2L831.6,2203.4L833.1,2203.6L834.6,2203.7L836.1,2203.9L837.6,2204.0L839.1,2204.2L840.6,2204.3L842.1,2204.5L843.6,2204.6L845.0,2204.8L846.5,2204.9L848.0,2205.0L849.5,2205.2L851.0,2205.3L852.5,2205.5L854.0,2205.6L855.5,2205.7L857.0,2205.9L858.5,2206.0L860.0,2206.1L861.5,2206.3L863.0,2206.4L864.5,2206.5L866.0,2206.6L867.5,2206.8L869.0,2206.9L870.5,2207.0L872.0,2207.2L873.4,2207.3L874.9,2207.4L876.4,2207.5L877.9,2207.6L879.4,2207.8L880.9,2207.9L882.4,2208.0L883.9,2208.1L885.4,2208.2L886.9,2208.3L888.4,2208.4L889.9,2208.5L891.4,2208.6L892.9,2208.7L894.4,2208.8L895.9,2208.9L897.4,2209.0L898.9,2209.1L900.4,2209.2L901.9,2209.3L903.4,2209.4L904.9,2209.5L906.4,2209.6L907.9,2209.6L909.4,2209.7L910.9,2209.8L912.4,2209.9L913.9,2209.9L915.4,2210.0L916.9,2210.1L918.4,2210.1L919.9,2210.2L921.4,2210.3L922.9,2210.3L924.4,2210.4L925.9,2210.5L927.4,2210.5L928.9,2210.6L930.4,2210.6L931.9,2210.7L933.4,2210.8L934.9,2210.8L936.4,2210.9L937.9,2210.9L939.4,2211.0L940.8,2211.0L942.3,2211.1L943.8,2211.2L945.3,2211.2L946.8,2211.3L948.3,2211.3L949.8,2211.4L951.3,2211.4L952.8,2211.5L954.3,2211.5L955.8,2211.6L957.3,2211.6L958.8,2211.7L960.3,2211.7L961.8,2211.8L963.3,2211.8L964.8,2211.9L966.3,2211.9L967.8,2211.9L969.3,2212.0L970.8,2212.0L972.3,2212.0L973.8,2212.0L975.3,2212.0L976.8,2212.0L978.3,2212.0L979.8,2212.0L981.3,2211.9L982.8,2211.9L984.3,2211.9L985.8,2211.8L987.3,2211.8L988.8,2211.8L990.3,2211.7L991.8,2211.7L993.3,2211.7L994.8,2211.6L996.3,2211.6L997.8,2211.5L999.3,2211.5L1000.8,2211.5L1002.3,2211.5L1003.8,2211.5L1005.3,2211.5L1006.8,2211.5L1008.3,2211.5L1009.8,2211.5L1011.3,2211.5L1012.8,2211.5L1014.3,2211.4L1015.8,2211.4L1017.3,2211.4L1018.8,2211.4L1020.3,2211.3L1021.8,2211.3L1023.3,2211.2L1024.8,2211.1L1026.3,2211.1L1027.8,2211.0L1029.3,2210.8L1030.8,2210.7L1032.3,2210.6L1033.8,2210.5L1035.3,2210.3L1036.8,2210.2L1038.3,2210.0L1039.8,2209.8L1041.3,2209.7L1042.8,2209.5L1044.3,2209.3L1045.7,2209.1L1047.2,2208.9L1048.7,2208.7L1050.2,2208.5L1051.7,2208.3L1053.2,2208.1L1054.7,2207.9L1056.1,2207.7L1057.6,2207.5L1059.1,2207.2L1060.6,2207.0L1062.1,2206.7L1063.6,2206.5L1065.0,2206.2L1066.5,2206.0L1068.0,2205.7L1069.5,2205.4L1070.9,2205.1L1072.4,2204.8L1073.9,2204.5L1075.3,2204.2L1076.8,2203.9L1078.3,2203.6L1079.7,2203.2L1081.2,2202.9L1082.7,2202.6L1084.1,2202.2L1085.6,2201.9L1087.0,2201.6L1088.5,2201.2L1090.0,2200.9L1091.4,2200.5L1092.9,2200.1L1094.3,2199.8L1095.8,2199.4L1097.2,2199.1L1098.7,2198.7L1100.2,2198.3L1101.6,2198.0L1103.1,2197.6L1104.5,2197.2L1106.0,2196.9L1107.4,2196.5L1108.9,2196.1L1110.3,2195.7L1111.8,2195.4L1113.2,2195.0L1114.7,2194.6L1116.1,2194.2L1117.6,2193.8L1119.0,2193.4L1120.5,2193.0L1121.9,2192.6L1123.4,2192.2L1124.8,2191.8L1126.3,2191.4L1127.7,2191.0L1129.1,2190.6L1130.6,2190.2L1132.0,2189.8L1133.5,2189.3L1134.9,2188.9L1136.4,2188.5L1137.8,2188.1L1139.2,2187.7L1140.7,2187.3L1142.1,2186.9L1143.6,2186.4L1145.0,2186.0L1146.4,2185.6L1147.9,2185.2L1149.3,2184.8L1150.8,2184.4L1152.2,2183.9L1153.6,2183.5L1155.1,2183.1L1156.5,2182.7L1158.0,2182.2L1159.4,2181.8L1160.8,2181.4L1162.3,2180.9L1163.7,2180.5L1165.1,2180.1L1166.6,2179.6L1168.0,2179.2L1169.5,2178.7L1170.9,2178.3L1172.3,2177.8L1173.7,2177.4L1175.2,2176.9L1176.6,2176.5L1178.0,2176.0L1179.4,2175.5L1180.8,2174.9L1182.2,2174.4L1183.6,2173.8L1185.0,2173.3L1186.4,2172.7L1187.8,2172.2L1189.2,2171.7L1190.6,2171.2L1192.1,2170.7L1193.5,2170.3L1195.0,2170.0L1196.4,2169.7L1197.9,2169.4L1199.4,2169.2L1200.9,2169.0L1202.4,2168.8L1203.9,2168.7L1205.4,2168.6L1206.9,2168.6L1208.4,2168.5L1209.9,2168.6L1211.4,2168.6L1212.9,2168.7L1214.4,2168.8L1215.8,2168.9L1217.3,2169.1L1218.8,2169.3L1220.3,2169.5L1221.8,2169.8L1223.3,2170.1L1224.7,2170.3L1226.2,2170.6L1227.7,2170.9L1229.2,2171.2L1230.6,2171.5L1232.1,2171.8L1233.6,2172.0L1235.0,2172.4L1236.5,2172.7L1237.9,2173.1L1239.4,2173.5L1240.8,2173.9L1242.3,2174.3L1243.7,2174.6L1245.2,2175.0L1246.7,2175.3L1248.1,2175.6L1249.6,2175.8L1251.1,2176.0L1252.6,2176.1L1254.1,2176.1L1255.6,2176.0L1257.1,2175.9L1258.6,2175.7L1260.1,2175.5L1261.6,2175.3L1263.0,2175.0L1264.5,2174.6L1265.9,2174.2L1267.3,2173.7L1268.7,2173.1L1270.1,2172.5L1271.4,2171.7L1272.6,2170.9L1273.8,2169.9L1274.9,2169.0L1276.0,2167.9L1277.0,2166.9L1278.1,2165.8L1279.1,2164.7L1280.2,2163.6L1281.2,2162.6L1282.3,2161.5L1283.3,2160.4L1284.4,2159.3L1285.4,2158.2L1286.4,2157.1L1287.4,2156.0L1288.4,2154.9L1289.3,2153.7L1290.3,2152.6L1291.2,2151.4L1292.2,2150.2L1293.0,2149.0L1293.9,2147.8L1294.8,2146.5L1295.6,2145.3L1296.4,2144.0L1297.2,2142.7L1297.9,2141.4L1298.7,2140.1L1299.4,2138.8L1300.1,2137.5L1300.8,2136.2L1301.5,2134.8L1302.2,2133.5L1302.8,2132.2L1303.5,2130.8L1304.2,2129.5L1304.8,2128.1L1305.4,2126.8L1306.1,2125.4L1306.7,2124.0L1307.3,2122.7L1307.9,2121.3L1308.5,2119.9L1309.1,2118.5L1309.6,2117.1L1310.2,2115.7L1310.8,2114.4L1311.3,2113.0L1311.9,2111.6L1312.4,2110.2L1313.0,2108.8L1313.5,2107.4L1314.1,2106.0L1314.6,2104.6L1315.2,2103.2L1315.7,2101.8L1316.3,2100.4L1316.9,2099.0L1317.4,2097.6L1318.0,2096.2L1318.5,2094.8L1319.1,2093.4L1319.7,2092.1L1320.2,2090.7L1320.8,2089.3L1321.3,2087.9L1321.9,2086.5L1322.4,2085.1L1323.0,2083.7L1323.5,2082.3L1324.1,2080.9L1324.6,2079.5L1325.2,2078.1L1325.8,2076.7L1326.3,2075.3L1326.9,2073.9L1327.5,2072.6L1328.0,2071.2L1328.6,2069.8L1329.2,2068.4L1329.8,2067.0L1330.3,2065.6L1330.9,2064.2L1331.5,2062.9L1332.1,2061.5L1332.7,2060.1L1333.2,2058.7L1333.8,2057.3L1334.4,2056.0L1335.0,2054.6L1335.7,2053.2L1336.3,2051.9L1336.9,2050.5L1337.6,2049.2L1338.3,2047.8L1339.0,2046.5L1339.7,2045.2L1340.4,2043.9L1341.2,2042.6L1341.9,2041.3L1342.7,2040.0L1343.6,2038.8L1344.5,2037.6L1345.6,2036.5L1346.6,2035.5L1347.8,2034.5L1349.0,2033.7L1350.4,2033.0L1351.8,2032.7L1353.2,2032.6L1354.6,2032.9L1356.0,2033.5L1357.3,2034.2L1358.7,2034.9L1359.9,2035.7L1361.2,2036.5L1362.4,2037.4L1363.6,2038.3L1364.6,2039.4L1365.6,2040.5L1366.4,2041.8L1367.1,2043.1L1367.8,2044.4L1368.4,2045.8L1368.9,2047.2L1369.5,2048.6L1370.0,2050.0L1370.5,2051.4L1371.1,2052.8L1371.6,2054.2L1372.2,2055.6L1372.7,2057.0L1373.3,2058.4L1373.8,2059.8L1374.3,2061.2L1374.9,2062.6L1375.4,2064.0L1375.9,2065.4L1376.5,2066.8L1377.0,2068.2L1377.5,2069.6L1378.1,2071.0L1378.6,2072.4L1379.1,2073.8L1379.7,2075.2L1380.2,2076.6L1380.8,2078.0L1381.3,2079.4L1381.9,2080.8L1382.5,2082.2L1383.0,2083.6L1383.6,2084.9L1384.2,2086.3L1384.8,2087.7L1385.4,2089.1L1386.0,2090.4L1386.7,2091.8L1387.4,2093.1L1388.2,2094.4L1389.0,2095.6L1389.8,2096.9L1390.7,2098.1L1391.6,2099.3L1392.6,2100.4L1393.7,2101.4L1394.9,2102.3L1396.2,2103.1L1397.5,2103.8L1398.9,2104.3L1400.3,2104.7L1401.8,2104.9L1403.3,2105.0L1404.8,2104.9L1406.3,2104.7L1407.7,2104.3L1409.1,2103.8L1410.5,2103.3L1411.9,2102.7L1413.3,2102.1L1414.6,2101.4L1416.0,2100.7L1417.3,2100.0L1418.6,2099.2L1419.9,2098.5L1421.1,2097.7L1422.4,2096.9L1423.7,2096.2L1425.0,2095.4L1426.3,2094.6L1427.6,2093.9L1428.9,2093.1L1430.1,2092.3L1431.4,2091.5L1432.7,2090.8L1434.0,2090.0L1435.3,2089.3L1436.7,2088.7L1438.0,2088.0L1439.4,2087.4L1440.8,2086.8L1442.2,2086.2L1443.5,2085.6L1444.9,2085.1L1446.4,2084.6L1447.8,2084.3L1449.3,2084.1L1450.8,2084.0L1452.3,2084.2L1453.7,2084.5L1455.1,2085.0L1456.5,2085.6L1457.8,2086.3L1459.1,2087.0L1460.4,2087.8L1461.7,2088.5L1463.0,2089.3L1464.3,2090.1L1465.5,2091.0L1466.6,2092.0L1467.6,2093.1L1468.6,2094.2L1469.5,2095.4L1470.3,2096.7L1471.0,2098.0L1471.7,2099.3L1472.4,2100.7L1473.0,2102.0L1473.6,2103.4L1474.2,2104.8L1474.7,2106.2L1475.3,2107.6L1475.8,2109.0L1476.4,2110.4L1477.0,2111.8L1477.5,2113.2L1478.1,2114.5L1478.7,2115.9L1479.3,2117.3L1479.9,2118.7L1480.5,2120.0L1481.1,2121.4L1481.7,2122.8L1482.3,2124.2L1482.9,2125.6L1483.5,2126.9L1484.0,2128.3L1484.6,2129.7L1485.2,2131.1L1485.8,2132.5L1486.4,2133.8L1487.0,2135.2L1487.6,2136.6L1488.2,2138.0L1488.9,2139.3L1489.5,2140.7L1490.2,2142.0L1490.9,2143.3L1491.6,2144.7L1492.3,2146.0L1493.0,2147.3L1493.7,2148.6L1494.5,2149.9L1495.3,2151.2L1496.0,2152.5L1496.8,2153.8L1497.6,2155.0L1498.5,2156.3L1499.3,2157.5L1500.2,2158.7L1501.1,2159.9L1502.0,2161.1L1502.9,2162.3L1503.9,2163.4L1504.8,2164.6L1505.8,2165.8L1506.8,2166.9L1507.8,2168.0L1508.8,2169.1L1509.8,2170.2L1510.9,2171.3L1512.0,2172.3L1513.1,2173.3L1514.3,2174.2L1515.5,2175.2L1516.7,2176.0L1518.0,2176.8L1519.3,2177.5L1520.6,2178.2L1522.0,2178.8L1523.4,2179.4L1524.8,2179.8L1526.2,2180.3L1527.7,2180.7L1529.1,2181.1L1530.6,2181.4L1532.0,2181.8L1533.5,2182.1L1535.0,2182.5L1536.4,2182.8L1537.9,2183.1L1539.3,2183.5L1540.8,2183.8L1542.3,2184.2L1543.7,2184.5L1545.2,2184.8L1546.6,2185.2L1548.1,2185.5L1549.6,2185.8L1551.1,2186.1L1552.5,2186.4L1554.0,2186.6L1555.5,2186.9L1556.9,2187.2L1558.4,2187.5L1559.9,2187.7L1561.4,2188.0L1562.9,2188.3L1564.3,2188.5L1565.8,2188.8L1567.3,2189.0L1568.8,2189.3L1570.2,2189.5L1571.7,2189.8L1573.2,2190.0L1574.7,2190.3L1576.2,2190.5L1577.7,2190.8L1579.1,2191.0L1580.6,2191.2L1582.1,2191.5L1583.6,2191.7L1585.1,2191.9L1586.5,2192.1L1588.0,2192.4L1589.5,2192.6L1591.0,2192.8L1592.5,2193.0L1594.0,2193.2L1595.5,2193.4L1596.9,2193.6L1598.4,2193.8L1599.9,2194.0L1601.4,2194.2L1602.9,2194.4L1604.4,2194.5L1605.9,2194.7L1607.4,2194.9L1608.9,2195.1L1610.3,2195.2L1611.8,2195.4L1613.3,2195.6L1614.8,2195.7L1616.3,2195.9L1617.8,2196.1L1619.3,2196.2L1620.8,2196.4L1622.3,2196.5L1623.8,2196.7L1625.3,2196.9L1626.8,2197.0L1628.2,2197.2L1629.7,2197.3L1631.2,2197.5L1632.7,2197.6L1634.2,2197.8L1635.7,2197.9L1637.2,2198.1L1638.7,2198.2L1640.2,2198.4L1641.7,2198.5L1643.2,2198.7L1644.7,2198.8L1646.2,2199.0L1647.7,2199.1L1649.1,2199.3L1650.6,2199.4L1652.1,2199.6L1653.6,2199.7L1655.1,2199.9L1656.6,2200.0L1658.1,2200.1L1659.6,2200.3L1661.1,2200.4L1662.6,2200.5L1664.1,2200.7L1665.6,2200.8L1667.1,2200.9L1668.6,2201.1L1670.1,2201.2L1671.6,2201.3L1673.1,2201.4L1674.6,2201.5L1676.0,2201.7L1677.5,2201.8L1679.0,2201.9L1680.5,2202.0L1682.0,2202.1L1683.5,2202.2L1685.0,2202.3L1686.5,2202.4L1688.0,2202.4L1689.5,2202.5L1691.0,2202.6L1692.5,2202.7L1694.0,2202.8L1695.5,2202.8L1697.0,2202.9L1698.5,2203.0L1700.0,2203.0L1701.5,2203.1L1703.0,2203.2L1704.5,2203.2L1706.0,2203.3L1707.5,2203.3L1709.0,2203.4L1710.5,2203.4L1712.0,2203.5L1713.5,2203.5L1715.0,2203.6L1716.5,2203.6L1718.0,2203.7L1719.5,2203.7L1721.0,2203.8L1722.5,2203.8L1724.0,2203.9L1725.5,2203.9L1727.0,2204.0L1728.5,2204.0L1730.0,2204.1L1731.5,2204.1L1733.0,2204.2L1734.5,2204.3L1735.5,2204.3" stroke="#00ff00"/>
</g>
<g fill="#000">
<rect x="1350.3" y="273.4" width="8.0" height="68.4"/><polygon points="1340.1,340.8 1368.5,340.8 1354.3,398.6"/>
<rect x="1451.2" y="446.3" width="8.0" height="69.3"/><polygon points="1441.0,514.6 1469.4,514.6 1455.2,570.7"/>
<rect x="1205.7" y="788.8" width="7.6" height="68.9"/><polygon points="1195.3,856.7 1223.7,856.7 1209.5,915.0"/>
<rect x="335.5" y="265" width="12.5" height="343.4"/>
<polygon points="319.5,270.1 363.6,270.1 342.2,180.2"/>
</g>
<g clip-path="url(#bottomclip)">
<text font-size="110.60" transform="matrix(0.9820 0 0 0.9911 139.27 2460.71)">800</text>
<text font-size="110.60" transform="matrix(0.9820 0 0 0.9861 516.16 2460.61)">900</text>
<text font-size="110.60" clip-path="url(#k2)" transform="matrix(0.9820 0 0 0.9962 861.56 2460.70)"><tspan dx="5.53">1</tspan><tspan dx="-5.53">0</tspan>00</text>
<text font-size="110.60" clip-path="url(#k3)" transform="matrix(0.9820 0 0 0.9924 1235.56 2460.71)"><tspan dx="5.53">1</tspan>1<tspan dx="-5.53">0</tspan>0</text>
<text font-size="110.60" clip-path="url(#k4)" transform="matrix(0.9820 0 0 0.9924 1612.36 2460.71)"><tspan dx="5.53">1</tspan><tspan dx="-5.53">2</tspan>00</text>
<text font-size="111.50" clip-path="url(#k5)" transform="matrix(0.9820 0 0 1.0000 1318.66 234.50)"><tspan dx="5.58">1</tspan><tspan dx="-5.58">0</tspan>97</text>
<text font-size="111.50" clip-path="url(#k6)" transform="matrix(0.9820 0 0 1.0000 1417.97 409.20)"><tspan dx="5.58">1</tspan>1<tspan dx="-5.58">2</tspan>3</text>
<text font-size="110.60" clip-path="url(#k7)" transform="matrix(0.9820 0 0 1.0000 993.86 758.10)"><tspan dx="5.53">1</tspan><tspan dx="-5.53">0</tspan>60</text>
<text font-size="110.20" transform="matrix(0.9838 0 0 1.0000 529.85 2613.80)">Raman shift (cm</text>
<text font-size="77.00" transform="matrix(1.0216 0 0 0.7200 1315.41 2570.16)">−</text>
<text font-size="77.00" clip-path="url(#k10)" transform="matrix(1.0000 0 0 1.0000 1359.90 2570.00)">1</text>
<text font-size="110.20" transform="matrix(0.9820 0 0 1.0000 1403.33 2613.80)">)</text>
<text font-size="106.00" transform="matrix(0.8346 0 0 1.0000 391.43 352.00)">&quot;shallow&quot; regions</text>
<text font-size="106.00" transform="matrix(0.8297 0 0 1.0000 390.38 487.50)">degraded with SBF</text>
<text font-size="100.00" class="nu" transform="matrix(1.0000 0 0 0.9321 392.10 991.24)">ν</text>
<text font-size="111.00" clip-path="url(#k15)" transform="matrix(0.9820 0 0 1.0000 445.99 991.40)">1</text>
<text font-size="111.00" transform="matrix(0.9877 0 0 1.0000 532.61 991.40)">PO</text>
<text font-size="75.00" transform="matrix(0.9533 0 0 1.0038 690.34 947.10)">3-</text>
<text font-size="75.00" transform="matrix(0.9474 0 0 0.9980 688.81 1019.20)">4</text>
<text font-size="100.00" class="nu" transform="matrix(1.0000 0 0 0.9321 389.80 1324.54)">ν</text>
<text font-size="111.00" clip-path="url(#k20)" transform="matrix(0.9820 0 0 1.0000 443.69 1324.70)">1</text>
<text font-size="111.00" transform="matrix(0.9877 0 0 1.0000 530.31 1324.70)">PO</text>
<text font-size="75.00" transform="matrix(0.9533 0 0 1.0038 688.04 1280.40)">3-</text>
<text font-size="75.00" transform="matrix(0.9474 0 0 0.9980 686.51 1352.50)">4</text>
<text font-size="100.00" class="nu" transform="matrix(1.0000 0 0 0.9321 392.10 1852.34)">ν</text>
<text font-size="111.00" clip-path="url(#k25)" transform="matrix(0.9820 0 0 1.0000 445.99 1852.50)">1</text>
<text font-size="111.00" transform="matrix(0.9877 0 0 1.0000 532.61 1852.50)">PO</text>
<text font-size="75.00" transform="matrix(0.9533 0 0 1.0038 690.34 1808.20)">3-</text>
<text font-size="75.00" transform="matrix(0.9474 0 0 0.9980 688.81 1880.30)">4</text>
<text font-size="100.00" class="nu" transform="matrix(0.9745 0 0 0.9321 1175.87 1558.84)">ν</text>
<text font-size="111.00" clip-path="url(#k30)" transform="matrix(0.9820 0 0 1.0000 1229.74 1559.40)">1</text>
<text font-size="111.00" transform="matrix(0.9787 0 0 1.0000 1318.13 1559.40)">CO</text>
<text font-size="75.00" transform="matrix(1.0119 0 0 0.9788 1479.05 1513.40)">2-</text>
<text font-size="75.00" transform="matrix(0.9800 0 0 1.0038 1480.16 1588.00)">3</text>
<text font-size="108.00" transform="matrix(0 -1.0098 1.0000 0 111.70 1446.27)">intensity (a.u.)</text>
</g>
</svg>
</body></html>
